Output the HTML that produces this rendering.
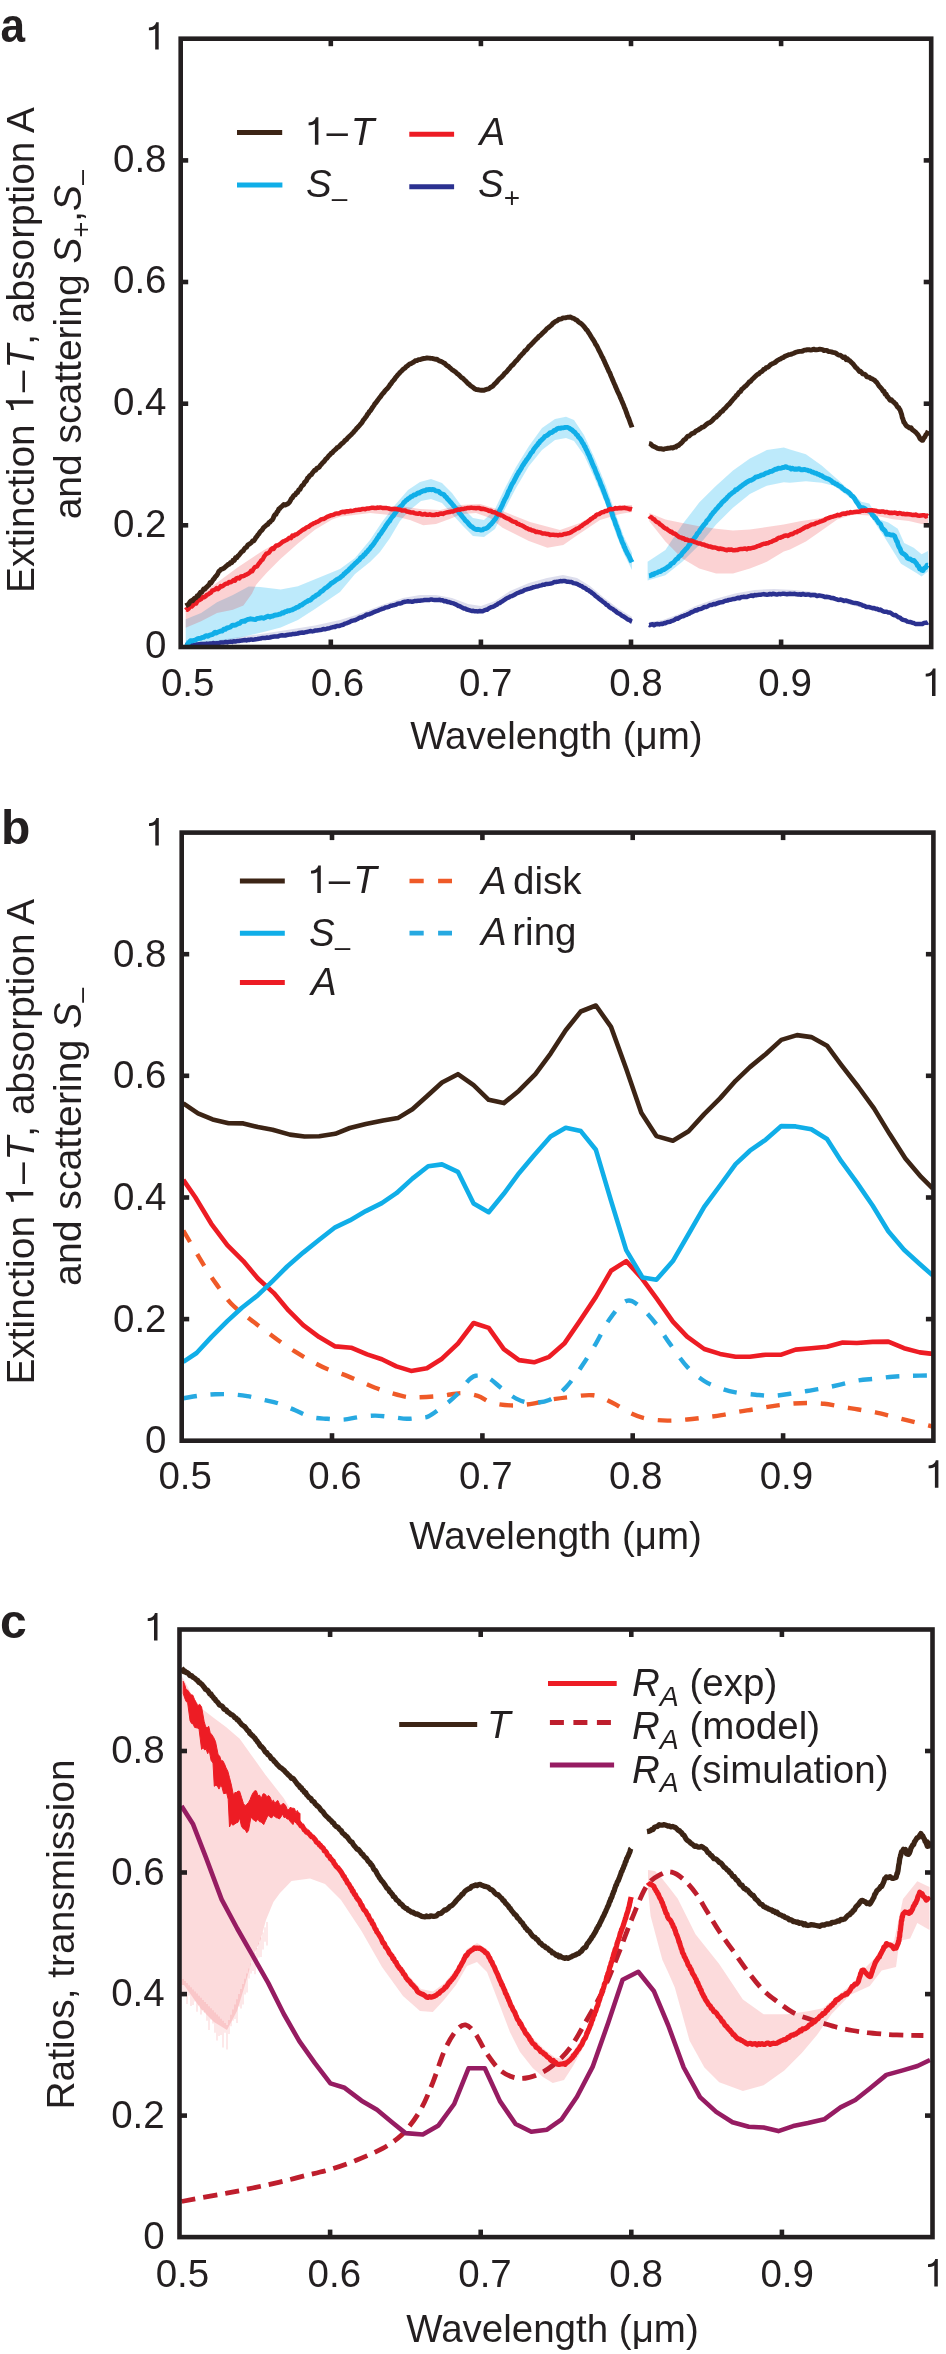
<!DOCTYPE html>
<html><head><meta charset="utf-8"><style>
html,body{margin:0;padding:0;background:#fff;}
svg{display:block;will-change:transform;}
text{font-family:"Liberation Sans", sans-serif;fill:#231f20;}
</style></head><body>
<svg width="946" height="2354" viewBox="0 0 946 2354">
<rect width="946" height="2354" fill="#fff"/>
<text transform="translate(0.6,42) scale(0.92,1)" font-size="48" font-weight="bold">a</text>
<path d="M185.7,643 L212.2,641 L246.5,636 L280.7,631 L315,625.5 L340,620 L356,615 L382,605 L403,598 L420,595 L436,595 L452,598 L468,604 L481,606 L495,601 L510,591 L529,583 L547,578 L563,575 L577,578 L590,586 L603,597 L619,609 L632,617 L632,622 L619,614 L603,602 L590,592 L577,584.5 L563,582 L547,584.5 L529,589.5 L510,597.5 L495,607 L481,612 L468,611 L452,604 L436,600.5 L420,601 L403,603 L382,610 L356,620.5 L315,631.5 L280.7,636.5 L246.5,641 L212.2,644.5 L185.7,646Z" fill="#2e3192" fill-opacity="0.16" stroke="none"/>
<path d="M649,622 L663,620 L679,614 L695.5,606 L715,599 L735,593.5 L754.5,590 L774,589 L794,590 L813.5,592 L833,596 L853,601.5 L872.5,607 L892,612 L892,615.5 L872.5,610.5 L853,605.5 L833,600.5 L813.5,597.5 L794,596 L774,595.5 L754.5,596.5 L735,600 L715,605 L695.5,612 L679,619 L663,625 L649,626Z" fill="#2e3192" fill-opacity="0.16" stroke="none"/>
<path d="M185.7,619.2 L201.1,612.9 L217,602.3 L232.9,594.9 L248.7,586.4 L260.2,587 L280.7,589.6 L297.9,586.2 L315,579.3 L340,569 L355,558 L370,540 L382,522 L395,505 L408,490 L420,482 L431,479 L442,483 L452,493 L463,508 L473,518 L484,520 L494.6,510 L505,488 L516,467 L529,446 L542,428 L555,419 L566,416.8 L574,420 L584,435 L595,459 L606,486 L616,515 L624,537 L632,553 L632,570 L624,554 L616,534 L606,505 L595,479 L584,455 L574,441 L566,438 L555,440 L542,450 L529,466 L516,488 L505,509 L495,529 L484,537 L473,536 L463,526 L452,514 L442,503 L431,499 L421,501 L410,510 L400,521 L390,538 L380,552 L370,562 L355,574 L340,592 L315,609 L297.9,620 L280.7,627.5 L263.6,632 L237.9,638 L212.2,643 L185.7,645Z" fill="#00aeef" fill-opacity="0.26" stroke="none"/>
<path d="M647.6,561.8 L665.4,549.9 L682.3,524.6 L699.2,502.6 L716.1,485.7 L733,470.4 L749.9,458.6 L766.8,450.1 L783.8,447.6 L790,449.5 L805.9,454.3 L821.7,465.4 L837.6,479.6 L853.4,493.9 L861.3,501.8 L869.3,503.4 L878.8,519.3 L888.3,522.4 L897.8,528.8 L904.2,543.1 L913.7,547.8 L921.6,554.2 L928,551 L928,571.6 L921.6,576.4 L916.8,573.2 L901,563.7 L885.1,538.3 L869.3,514.5 L853.4,500.3 L834.4,486 L821.7,482.8 L805.9,481.2 L790,482.8 L783.8,482.3 L766.8,485.7 L749.9,494.1 L733,507.7 L716.1,524.6 L699.2,544.9 L682.3,561.8 L665.4,575.3 L647.6,580.4Z" fill="#00aeef" fill-opacity="0.26" stroke="none"/>
<path d="M185.7,606.7 L212.2,586.2 L237.9,567.3 L263.6,550.2 L289.3,536.5 L315,522.8 L340,514.2 L370,506 L400,506 L420,509 L440,510 L460,505 L480,504 L500,510 L530,522 L560,530 L580,523 L600,512 L620,505 L632,505 L632,512 L620,514 L600,520 L576.5,535.8 L563.3,545 L547.4,547.7 L528.9,541 L502.5,527.8 L490,518 L476,513 L462,514 L449.6,519 L436,524 L423.2,525.2 L410,520 L390,515 L370,513 L340,516.8 L332.1,519.4 L315,529.7 L297.9,543.4 L280.7,558.8 L267,572.5 L260.2,580 L256,585 L251.9,593.8 L243.4,605.5 L232.9,609.7 L217,612.9 L201.1,621.3 L185.7,627.7Z" fill="#ed1c24" fill-opacity="0.2" stroke="none"/>
<path d="M649.3,513 L665.4,519.5 L682.3,522.9 L699.2,526.3 L716.1,528.8 L733,530.5 L749.9,529.6 L766.8,527.1 L783.8,524.6 L800,521.2 L821.7,518 L837.6,513 L853.4,510 L866,508.5 L878.8,509 L893,510.5 L909,512 L928,513.5 L928,524 L921.6,524 L908.9,520.9 L893.1,519.3 L877.2,516.1 L853.4,514.5 L837.6,519.3 L821.7,530.4 L805.9,541.5 L790,549.4 L783.8,551.6 L766.8,561.8 L749.9,568.5 L733,573.6 L716.1,573.6 L699.2,568.5 L682.3,558.4 L665.4,541.5 L649.3,521.2Z" fill="#ed1c24" fill-opacity="0.2" stroke="none"/>
<path d="M185.7,645.2 L186.6,644.9 L187.6,645.2 L188.7,645.1 L189.9,644.9 L191.3,644.7 L192.8,645 L194.3,644.9 L196,644.6 L197.7,644.5 L199.4,644.2 L201.2,643.9 L203,644.1 L204.9,644.1 L206.7,643.6 L208.6,644 L210.4,643.5 L212.2,643.3 L213.6,643.1 L215,643.6 L216.5,643.3 L218,643.3 L219.5,642.9 L221,642.4 L222.5,642.5 L224.1,642.4 L225.7,642 L227.3,642.4 L228.9,641.9 L230.5,641.6 L232.1,641.9 L233.7,641.2 L235.3,641.6 L236.9,641.1 L238.6,641 L240.2,640.7 L241.8,640.6 L243.4,640.2 L244.9,640 L246.5,640.4 L248.1,639.7 L249.6,639.9 L251.2,639.4 L252.7,639.7 L254.3,639.5 L255.8,639.2 L257.4,639 L258.9,638.7 L260.5,638.6 L262,638 L263.6,638 L265.2,638.1 L266.7,637.5 L268.3,637.8 L269.8,637.5 L271.4,637 L272.9,636.8 L274.5,636.6 L276,636.4 L277.6,636.6 L279.1,635.9 L280.7,635.5 L282.2,635.3 L283.7,635.5 L285.2,635.5 L286.8,635 L288.3,634.7 L289.9,634.6 L291.4,634.5 L293,633.9 L294.5,633.9 L296.1,633.7 L297.7,633.5 L299.2,633 L300.7,632.7 L302.2,632.6 L303.8,632.8 L305.2,632.2 L306.7,632.1 L308.2,631.7 L309.6,631.3 L311,631.1 L312.4,631.4 L313.7,631.1 L315,630.6 L316.7,630.5 L318.4,630.2 L320.1,630.1 L321.7,629.8 L323.3,629.1 L324.9,629.3 L326.4,628.9 L327.9,628.4 L329.4,628.3 L330.8,627.7 L332.2,627.3 L333.6,626.9 L334.9,627.1 L336.2,626.2 L337.5,625.9 L338.8,626 L340,625.7 L341.8,625 L343.4,624.7 L344.8,623.7 L346.2,623.3 L347.5,622.8 L348.7,622.4 L350,621.7 L351.4,621 L352.9,620.6 L354.5,620.3 L356.3,619.6 L357.5,619 L358.8,618.3 L360.1,617.6 L361.5,617.5 L362.9,616.6 L364.4,616.2 L365.9,615 L367.4,614.5 L369,614.3 L370.5,613.7 L372.1,613.1 L373.6,612.3 L375.1,611.6 L376.6,611.1 L378.1,610.7 L379.5,609.8 L380.9,609.4 L382.2,608.7 L383.9,608.5 L385.5,607.4 L387.2,607.3 L388.8,606.9 L390.5,605.8 L392,605.7 L393.6,605.2 L395.1,604.9 L396.6,604.3 L398,603.6 L399.3,603.4 L400.6,603.4 L401.8,603.1 L402.9,602.2 L405.1,601.7 L406.7,601.5 L408,601.3 L409.2,601.6 L410.5,601.4 L412,601.8 L413.5,601.5 L415,600.9 L416.5,601.1 L418.1,600.8 L419.8,600.8 L421.5,600.4 L423.2,600.3 L424.7,600.1 L426.3,600.1 L427.9,600.1 L429.5,599.9 L431.2,599.4 L432.9,599.7 L434.6,599.9 L436.4,599.9 L437.9,600.1 L439.4,599.7 L441,600.3 L442.6,600.3 L444.2,601.2 L445.8,601.1 L447.5,601.9 L449.1,602.1 L450.7,602.8 L452.3,603.1 L453.7,603.4 L455.2,604.2 L456.7,604.8 L458.2,605.9 L459.6,606.1 L461.1,607 L462.5,607.7 L464,608.6 L465.4,608.6 L466.8,609.5 L468.1,609.8 L469.9,610.4 L471.6,611 L473.3,610.8 L474.9,611.3 L476.5,611.3 L478.1,611.4 L479.8,611 L481.4,611.3 L482.9,611.2 L484.3,610.3 L485.7,609.8 L487.1,609.8 L488.6,608.5 L490,607.8 L491.5,607.1 L493,606.8 L494.6,606 L495.8,605.1 L497.1,604.6 L498.3,603.4 L499.6,603.1 L500.9,602.1 L502.2,601.4 L503.5,600.5 L504.8,599.7 L506.2,598.7 L507.6,597.8 L509,597.3 L510.4,596.4 L511.7,596.1 L513.1,595.5 L514.5,594.8 L515.9,593.9 L517.3,593.1 L518.8,592.6 L520.2,592 L521.7,591.5 L523.1,591.1 L524.6,589.9 L526,589.6 L527.5,589.1 L528.9,588.8 L530.4,588.4 L532,587.8 L533.6,587.2 L535.2,586.9 L536.7,586.4 L538.3,586.2 L539.9,585.7 L541.4,585.3 L543,584.7 L544.5,584.8 L545.9,584.1 L547.4,584 L549.1,583.8 L550.8,583.5 L552.4,583.1 L554.1,582.1 L555.7,582 L557.3,581.7 L558.8,581.5 L560.3,581.1 L561.8,581.3 L563.3,580.9 L565.1,581.1 L566.8,581.7 L568.4,581.8 L570.1,581.9 L571.7,582 L573.3,583.1 L574.9,583.4 L576.5,583.7 L577.8,584.3 L579.1,585.1 L580.5,585.8 L581.8,586.2 L583.1,587.4 L584.4,587.8 L585.7,588.5 L587.1,589.8 L588.4,590.2 L589.7,591.4 L590.9,591.9 L592.1,593.1 L593.2,593.7 L594.4,594.7 L595.5,596.1 L596.7,596.7 L597.9,597.7 L599.1,598.8 L600.3,599.6 L601.6,600.6 L602.9,601.7 L604,602.5 L605.2,603.4 L606.4,604.9 L607.7,605.2 L608.9,606.7 L610.2,607.7 L611.5,608.5 L612.8,609 L614,610.3 L615.3,610.9 L616.5,612.1 L617.7,613 L618.8,613.5 L620.3,614.3 L621.8,615.7 L623.4,616.4 L624.9,617.4 L626.4,618.4 L627.8,619.5 L629.1,619.9 L630.2,620.4 L631.2,621.4 L632,621.7" fill="none" stroke="#2b3190" stroke-width="4.5" stroke-linejoin="round" stroke-linecap="butt"/>
<path d="M649,624.9 L649.9,625.3 L651.1,624.4 L652.5,624.3 L654,625.2 L655.7,624.2 L657.5,624 L659.3,624.4 L661.1,623.8 L662.8,624 L664.2,623 L665.6,623.3 L667.1,622.2 L668.6,621.9 L670.1,621.7 L671.6,620.9 L673.1,620.6 L674.7,619.7 L676.2,618.5 L677.7,618.7 L679.2,617.8 L680.7,616.9 L682.1,616.2 L683.6,616.2 L685,615.2 L686.4,614.9 L687.9,614.1 L689.3,613.6 L690.8,612.5 L692.3,612 L693.9,611.2 L695.5,610.3 L696.9,610.4 L698.3,609.3 L699.8,609.2 L701.3,608.8 L702.8,608 L704.4,607 L705.9,607.1 L707.5,606.5 L709,605.5 L710.6,604.9 L712.1,604.9 L713.7,603.9 L715.2,604.3 L716.7,603.5 L718.2,603 L719.7,602.5 L721.3,602.3 L722.8,602.1 L724.3,601.1 L725.8,600.8 L727.3,600.6 L728.8,599.9 L730.4,599.8 L731.9,599.4 L733.4,599 L734.9,598.9 L736.4,598.4 L737.9,597.7 L739.4,598.3 L740.9,597.3 L742.4,597.1 L743.9,596.8 L745.5,597.1 L747,596.9 L748.5,596.2 L750,595.9 L751.5,595.4 L753,596 L754.5,595.1 L756,595.3 L757.6,594.9 L759.1,594.8 L760.7,594.7 L762.2,594.4 L763.8,594.1 L765.4,594.6 L766.9,594.7 L768.4,594.5 L769.9,594 L771.4,594.4 L772.8,593.7 L774.2,594 L775.9,594.4 L777.6,594.4 L779.2,593.9 L780.8,594.2 L782.3,593.8 L783.9,593.8 L785.4,593.9 L786.9,594.3 L788.4,594 L790,593.8 L791.6,594.1 L793.2,594 L794.8,593.8 L796.4,594.3 L798,594.4 L799.5,594.3 L801.1,594.7 L802.7,593.9 L804.3,594.5 L805.9,594.7 L807.5,594.6 L809.1,594.5 L810.6,595.2 L812.2,595 L813.8,595 L815.4,595 L817,596.1 L818.5,595.6 L820.1,595.6 L821.7,595.9 L823.3,596.2 L824.9,597.1 L826.5,596.7 L828.1,597.1 L829.6,597.2 L831.2,598 L832.8,598 L834.4,598.5 L836,599.2 L837.6,599.7 L839.2,599.9 L840.8,599.5 L842.4,600.1 L844.1,600.9 L845.7,600.4 L847.3,600.9 L848.9,601.5 L850.4,601.7 L851.9,602.4 L853.4,602.7 L855.1,602.9 L856.8,603.2 L858.4,603.7 L859.9,604.3 L861.5,604.6 L863,605.7 L864.5,605.7 L866.1,606.9 L867.7,607.1 L869.3,606.9 L870.9,607.7 L872.5,608.2 L874,608 L875.6,608.9 L877.2,608.8 L878.8,610 L880.4,609.6 L882,610.7 L883.6,611.5 L885.1,611.8 L886.7,611.7 L888.3,612.5 L889.9,612.6 L891.5,613.4 L892.9,614.6 L894.3,615.2 L895.7,615.1 L897.1,616.3 L898.6,617.3 L900,617.6 L901.4,619 L902.8,619.8 L904.2,620.1 L905.8,620.5 L907.4,621.6 L909,621.9 L910.6,622.1 L912.2,622.7 L913.8,623 L915.3,624 L916.8,623.9 L918.6,624.1 L920.4,624.1 L922.3,624 L924.1,622.9 L925.7,622.7 L927,622.9 L928,622.3" fill="none" stroke="#2b3190" stroke-width="4.5" stroke-linejoin="round" stroke-linecap="butt"/>
<path d="M185.7,642.7 L186.6,643.2 L187.7,643 L189,642.5 L190.4,640.7 L192,641.1 L193.6,640.4 L195.4,640.1 L197.1,638.9 L198.8,638.5 L200.5,638.4 L202.2,637.5 L203.7,637.4 L205.2,636.1 L206.6,635.7 L208,636.3 L209.5,635.2 L210.9,634.8 L212.3,634.6 L213.7,633.4 L215.1,632.2 L216.5,633 L218,632 L219.4,631.6 L220.8,630.9 L222.3,631 L223.7,629.3 L225.3,629.4 L226.8,628 L228.4,627.8 L229.9,627.3 L231.4,626.1 L232.8,625.1 L234.2,625.2 L235.5,625.1 L236.8,624.4 L237.9,623.7 L239.7,623.3 L241.1,621.8 L242.2,621.3 L243.3,621 L244.7,621.4 L246.5,619.9 L247.7,619.4 L249.1,619.2 L250.6,618.8 L252.1,619.1 L253.7,619.4 L255.3,619.6 L257,618.5 L258.7,618.4 L260.4,618 L262,617.7 L263.6,618.3 L265.2,617.6 L266.7,616.7 L268.3,616.1 L269.8,617 L271.4,616.3 L272.9,616.1 L274.5,615.2 L276,615 L277.6,614.9 L279.1,614.2 L280.7,614 L282.1,612.8 L283.6,613.1 L285,611.7 L286.4,611.6 L287.9,610.7 L289.3,610.8 L290.7,610.1 L292.2,609.8 L293.6,609 L295,608.5 L296.5,607.4 L297.9,607.1 L299.2,606.3 L300.5,605.2 L301.9,605.1 L303.2,603.8 L304.5,602.9 L305.8,602 L307.1,601.5 L308.4,600.5 L309.7,600.3 L311.1,599.5 L312.4,598 L313.7,597 L315,596.4 L316.2,595.2 L317.5,594.6 L318.8,593.8 L320.2,592.3 L321.5,591.3 L322.8,590.7 L324.1,589.2 L325.4,588 L326.7,587.5 L327.9,586.4 L329,585.5 L330.1,584.4 L331.2,583.3 L332.1,582.9 L333.9,581.7 L335.3,580.7 L336.4,579.7 L337.5,579.2 L338.6,578.6 L340,577.8 L340.9,576.9 L341.9,576.1 L342.9,575.5 L343.9,574 L344.9,573.5 L346,572.2 L347.2,571.3 L348.4,570.4 L349.7,568.6 L351.1,567.9 L352,566.3 L352.9,565.8 L353.9,564.8 L355,563.6 L356.1,562.8 L357.2,561.7 L358.3,560.6 L359.5,559.7 L360.6,557.9 L361.8,557.1 L362.9,556.4 L364,554.7 L365.1,554.2 L366.2,552.4 L367.3,551.7 L368.3,550.2 L369.2,549.4 L370.3,548 L371.3,546.4 L372.3,545.7 L373.3,544.2 L374.2,543.1 L375.1,541.6 L376,540.4 L376.9,539 L377.8,537.5 L378.6,536.8 L379.5,534.7 L380.4,534.1 L381.3,532.8 L382.2,531.2 L383.1,530.1 L384.1,528.7 L385,527.3 L385.9,525.7 L386.8,524.4 L387.8,523.1 L388.7,521.7 L389.6,521 L390.6,519.1 L391.5,517.9 L392.4,516.6 L393.3,515.8 L394.3,514.3 L395.2,513.1 L396.3,511.5 L397.4,510.2 L398.4,508.7 L399.5,507.5 L400.6,506.3 L401.7,505.6 L402.8,504.1 L403.8,502.6 L404.9,501.8 L406,500.4 L407,499.9 L408.1,498.8 L409.5,498.1 L410.9,496.6 L412.4,496.3 L413.8,495 L415.2,494.9 L416.6,494 L418,492.9 L419.3,493 L420.6,492 L422.2,491.4 L423.7,490.6 L425.2,490.7 L426.7,489.6 L428.2,489.9 L429.6,489.4 L431.1,489.7 L432.6,489.5 L434.1,489.6 L435.6,490.8 L437.2,491.1 L438.7,491.4 L440.2,493 L441.7,493.9 L442.9,494.1 L444.1,494.9 L445.2,496.5 L446.4,497.3 L447.6,499.1 L448.8,500.1 L449.9,501.6 L451.1,502.8 L452.3,504.3 L453.3,505.5 L454.2,506.5 L455.2,507.7 L456.2,508.7 L457.1,509.7 L458.1,511 L459.1,512.9 L460,513.6 L461,515 L461.9,516 L462.9,517.4 L464.1,518.7 L465.2,520.3 L466.4,521.3 L467.6,522.5 L468.7,524 L469.9,525.3 L471.1,526.5 L472.2,526.9 L473.4,528.1 L474.9,529 L476.4,529.6 L477.9,529.3 L479.5,529.7 L481,530.1 L482.5,529.9 L484,528.8 L485.2,528.6 L486.4,528.3 L487.5,527.6 L488.7,526.5 L489.9,525.2 L491.1,524.2 L492.3,522.6 L493.4,521.3 L494.6,519.8 L495.3,519.1 L496,517.8 L496.7,516.4 L497.4,514.9 L498.1,513.6 L498.8,512.5 L499.5,510.8 L500.2,509 L500.9,508.1 L501.6,506.3 L502.3,505.2 L503,503.2 L503.7,501.8 L504.4,500.2 L505.1,498.9 L505.8,497.8 L506.5,496.4 L507.2,494.7 L507.9,493.1 L508.5,491.3 L509.2,490.6 L509.9,488.8 L510.6,487.4 L511.3,485.7 L512,484.2 L512.7,483.2 L513.4,482.3 L514.2,480.6 L514.9,479.2 L515.7,477.8 L516.5,476.1 L517.2,474.6 L518,473.7 L518.8,471.8 L519.6,470.9 L520.5,469.5 L521.3,468.2 L522.1,466.5 L523,465.1 L523.8,464.1 L524.7,462.5 L525.5,461.6 L526.4,460 L527.2,459.1 L528.1,457.9 L528.9,456.6 L529.8,455.2 L530.8,453.5 L531.7,452.3 L532.7,451.5 L533.6,449.5 L534.6,448.2 L535.5,447.2 L536.4,445.9 L537.4,445 L538.3,443.3 L539.3,442.8 L540.2,440.9 L541.2,440.5 L542.1,439.4 L543.4,438.4 L544.8,436.5 L546.1,435.9 L547.5,435.1 L548.9,433.9 L550.2,432.6 L551.5,432.5 L552.8,431.8 L554.1,430.4 L555.3,430.4 L557,428.9 L558.6,428.3 L560.2,428.4 L561.7,427.9 L563.1,427.9 L564.6,427.5 L565.9,427.4 L567.6,427.4 L569.1,428.1 L570.6,429.2 L572.1,430 L573.8,431.7 L574.7,432 L575.6,433.5 L576.5,434.6 L577.5,435.1 L578.4,437 L579.4,437.8 L580.4,439.2 L581.4,440.6 L582.4,442.7 L583.4,443.9 L584.4,446.3 L585,446.6 L585.6,448.5 L586.3,449.7 L586.9,450.9 L587.5,452.2 L588.1,453.8 L588.8,455 L589.4,456 L590,458.1 L590.6,459.1 L591.3,460.8 L591.9,462.2 L592.5,464.1 L593.1,465.1 L593.8,467 L594.4,467.8 L595,469.5 L595.6,471.3 L596.2,472.6 L596.8,474.2 L597.4,475.1 L597.9,477 L598.5,478.5 L599.1,479.3 L599.7,480.8 L600.3,482.6 L600.9,484.5 L601.5,485.6 L602.1,486.9 L602.7,488.5 L603.3,490.3 L603.8,491.5 L604.4,493.1 L605,494.6 L605.6,496.5 L606.1,497.8 L606.7,499.2 L607.2,500.2 L607.7,502 L608.3,503.7 L608.8,505.1 L609.4,506.8 L609.9,508.3 L610.5,509.1 L611,511 L611.6,512.4 L612.1,513.7 L612.6,515.5 L613.1,517.4 L613.7,518.7 L614.2,519.5 L614.7,521 L615.2,522.5 L615.6,524.3 L616.1,525.2 L616.7,526.5 L617.3,528.5 L617.9,529.8 L618.4,531.1 L619,533.1 L619.5,534.9 L620,536.1 L620.5,537.5 L621,538.3 L621.5,540 L622,541.4 L622.5,542.8 L623.1,543.8 L623.6,544.7 L624.1,546.7 L624.9,547.8 L625.6,549.9 L626.5,551.4 L627.3,553.4 L628.1,554.6 L628.9,556 L629.7,557.7 L630.4,559.1 L631,560.6 L631.6,561.3 L632,562.2" fill="none" stroke="#10aee8" stroke-width="4.9" stroke-linejoin="round" stroke-linecap="butt"/>
<path d="M649,575.8 L649.9,575.7 L651,575.4 L652.3,574.2 L653.7,574.5 L655.3,573.1 L657,572.9 L658.7,571.6 L660.4,571.5 L662.2,570.1 L663.8,569.7 L665.4,568.7 L666.5,568 L667.6,566.9 L668.7,566.4 L669.9,565.7 L671,563.9 L672.1,563.3 L673.3,562.8 L674.4,561.5 L675.5,560.2 L676.6,559 L677.8,558.5 L678.9,556.5 L680,556 L681.2,554.9 L682.3,553 L683.2,552.1 L684.2,551 L685.1,550.1 L686.1,548.7 L687,548.1 L687.9,546.9 L688.9,545.1 L689.8,544.4 L690.8,542.3 L691.7,541 L692.6,540.3 L693.6,539.2 L694.5,537.9 L695.4,536.8 L696.4,535.4 L697.3,533.5 L698.3,532.8 L699.2,531.7 L700.1,529.7 L701.1,528.8 L702,527.2 L703,526 L703.9,525 L704.8,523.9 L705.8,523 L706.7,520.9 L707.7,520 L708.6,519.2 L709.5,517.8 L710.5,516.3 L711.4,514.8 L712.3,514 L713.3,512.4 L714.2,511.7 L715.2,510.5 L716.1,509.2 L717.2,508.3 L718.4,506.7 L719.5,505.5 L720.6,504.6 L721.7,502.9 L722.9,501.6 L724,500.9 L725.1,499.6 L726.2,498.9 L727.4,497.2 L728.5,496.3 L729.6,494.9 L730.7,494.3 L731.9,493.2 L733,492.3 L734.3,491.6 L735.6,489.8 L736.9,489.7 L738.2,488.5 L739.5,487.6 L740.8,486.4 L742.1,485.5 L743.4,484.5 L744.7,483.7 L746,482.7 L747.3,481.9 L748.6,481.1 L749.9,480.4 L751.3,480.2 L752.7,479.4 L754.1,478.5 L755.5,477.2 L756.9,476.8 L758.3,476.5 L759.8,476 L761.2,475.2 L762.6,474.8 L764,474.5 L765.4,473.3 L766.8,472.9 L768.4,472.6 L770,471.5 L771.7,471.3 L773.4,470.3 L775.1,469.3 L776.8,469.2 L778.4,468.2 L779.9,468.4 L781.4,468.1 L782.7,467.4 L783.8,467.5 L785.9,466.6 L787,467.3 L788,467.6 L790,468 L791.2,469 L792.6,468.3 L794.1,469.3 L795.7,469 L797.4,469.2 L799.1,468.7 L800.8,469.7 L802.6,469.8 L804.3,469.4 L805.9,469.8 L807.4,470.1 L808.8,470.9 L810.3,470.9 L811.9,472.1 L813.4,472.3 L814.8,473.1 L816.3,473.2 L817.7,474.2 L819.1,474.5 L820.4,475.3 L821.7,475.6 L823.3,476.9 L824.8,477.6 L826.2,478.3 L827.5,478.6 L828.8,479.2 L830.1,480 L831.4,480.8 L832.8,482.5 L834.2,482.6 L835.6,484.1 L837,484.3 L838.4,485.6 L839.9,486.2 L841.2,487.1 L842.6,488.5 L843.9,489.3 L845.2,490.6 L846.5,490.8 L847.7,491.8 L848.9,492.6 L850.1,493.7 L851.3,495.5 L852.4,496.1 L853.4,497.1 L854.4,498.3 L855.4,500.1 L856.2,501.5 L857,502.4 L857.8,503.7 L858.8,505.2 L859.8,506.9 L861,507.9 L862.3,507.6 L863.7,508.1 L865.1,508.7 L866.5,510 L867.9,510.8 L869.3,510.8 L870.4,511.9 L871.4,512.9 L872.5,515.3 L873.6,515.9 L874.7,517.9 L875.8,518 L876.8,520 L877.8,521.3 L878.8,523.2 L879.7,523.4 L880.7,524.5 L881.6,527 L882.4,528.6 L883.3,529.1 L884.1,530.1 L885,530.8 L885.8,532.5 L886.7,534.3 L888.3,534.2 L889.9,534.7 L891.5,535.1 L893.1,535 L894.6,536 L895.3,537.8 L896,539.8 L896.6,541.1 L897.3,541.6 L897.9,544.2 L898.5,545.9 L899.1,547.1 L899.8,548.2 L900.4,549.3 L901,551.4 L902.2,553.1 L903.4,553.7 L904.7,554.6 L905.9,555.6 L907.3,557.9 L908.6,558.8 L909.9,558.9 L911.3,559.8 L912.7,560.7 L914,560.5 L915.3,562.1 L916.4,563.3 L917.5,565.6 L918.5,566 L919.6,568.8 L920.6,568.7 L921.6,570.2 L923,570.5 L924.5,568 L925.9,567.4 L927.1,565.2 L928,565.3" fill="none" stroke="#10aee8" stroke-width="4.9" stroke-linejoin="round" stroke-linecap="butt"/>
<path d="M185.7,610.1 L186.5,609.3 L187.5,609.7 L188.7,608.6 L190,606.4 L191.6,606.6 L193.3,604.9 L195.1,602.4 L196.2,603.4 L197.3,601.2 L198.6,600.4 L199.9,599.7 L201.3,599 L202.7,597.1 L204.1,597.2 L205.5,596.4 L206.9,594.8 L208.3,594.4 L209.7,593.2 L211,592.7 L212.2,590.7 L213.7,590.1 L215.2,589.5 L216.6,588.1 L218,589.1 L219.4,587.8 L220.7,586.1 L222,586.5 L223.3,585.6 L224.6,584.5 L225.9,583.8 L227.5,583.6 L229,582.1 L230.5,582.3 L232,581.5 L233.5,580 L234.9,580.7 L236.4,578.3 L237.9,577.8 L239.4,578.4 L240.9,576.5 L242.5,576.3 L244,575.9 L245.5,574.9 L247,574.3 L248.5,573.5 L249.9,572.5 L251.1,570.7 L252.3,571.1 L253.5,569 L254.7,567.3 L255.8,566.8 L257,566.4 L258.1,564.8 L259.1,563.3 L260.2,562.2 L261.3,560.3 L262.4,559.8 L263.4,558 L264.4,556.1 L265.4,554.9 L266.5,553.5 L267.6,553.5 L268.8,552.7 L269.9,551.4 L271.1,549.4 L272.3,548.3 L273.6,549 L274.9,547 L276.2,545.6 L277.6,545.5 L279.1,544.7 L280.7,543.5 L281.8,542.6 L283.1,541.5 L284.3,541.1 L285.6,540.3 L286.9,539.9 L288.3,538.7 L289.7,537.7 L291.1,538.1 L292.4,535.5 L293.8,536 L295.2,534.5 L296.6,534.5 L297.9,533.5 L299.2,532.4 L300.5,531.6 L301.9,530.5 L303.2,529.5 L304.5,529.2 L305.8,528 L307.1,527.1 L308.4,526.8 L309.7,525.9 L311.1,524.6 L312.4,524.3 L313.7,523.2 L315,523.1 L316.4,521.9 L317.9,521.7 L319.4,520.7 L320.9,519.5 L322.4,519.1 L323.9,518.9 L325.4,518 L326.8,516.9 L328.2,516.5 L329.6,515.9 L330.9,515.2 L332.1,515.2 L333.9,514.6 L335.3,513.7 L336.6,513.6 L337.8,513.5 L339.3,513.2 L341.1,512.3 L343.4,511.8 L344.6,512.2 L345.8,511.5 L347.2,511.2 L348.7,511.4 L350.3,510.8 L352,510.9 L353.6,510.6 L355.3,510.1 L357.1,509.9 L358.8,509.6 L360.5,509.7 L362.1,509.1 L363.7,508.9 L365.2,509.2 L366.7,508.5 L368,508.5 L369.2,508.4 L371.4,507.8 L373.2,507.8 L374.7,508 L376,508.1 L377.3,507.6 L378.7,507.7 L380.3,507.4 L382.2,507.9 L383.6,507.9 L385.1,508.1 L386.7,508.1 L388.4,508.4 L390.2,509.1 L392,509.2 L393.8,509.1 L395.6,509.1 L397.3,509.3 L398.9,509.6 L400.4,509.8 L401.7,510.4 L402.9,510.5 L405.5,510.6 L406.9,511.6 L408.1,511.7 L410,512.2 L411.4,512.6 L412.9,512.4 L414.5,513.1 L416.2,513.5 L418,513.7 L419.8,513.3 L421.5,514.2 L423.2,514.5 L424.8,513.9 L426.5,514.7 L428.1,514.8 L429.8,514.3 L431.4,514.9 L433.1,514.9 L434.8,514.9 L436.4,514.2 L438,514.8 L439.7,513.8 L441.3,513.5 L443,513.9 L444.6,513.1 L446.3,512.5 L447.9,512.3 L449.6,512.1 L451.1,511.5 L452.6,511.6 L454,511 L455.5,510.4 L457,510 L458.5,509.4 L459.9,509.7 L461.4,508.9 L462.9,509.1 L464.6,508.6 L466.2,508.4 L467.9,507.9 L469.5,508 L471.2,507.6 L472.8,507.9 L474.5,508 L476.1,508.3 L477.8,507.9 L479.4,508.1 L481.1,508.9 L482.7,508.7 L484.4,509.1 L486,509.7 L487.7,510.2 L489.3,511.1 L490.8,510.8 L492.2,512 L493.7,512.2 L495.2,512.5 L496.6,513.2 L498.1,514.4 L499.6,514.4 L501,515.3 L502.5,515.6 L504,516.7 L505.4,517.5 L506.9,518.3 L508.4,518.7 L509.8,519.5 L511.3,520.6 L512.8,521.4 L514.2,521.8 L515.7,522.2 L517.2,523.7 L518.6,524 L520.1,524.9 L521.6,525.3 L523,526.1 L524.5,526.9 L526,528 L527.4,528.4 L528.9,529.4 L530.4,529.5 L531.8,530.4 L533.2,530.4 L534.6,531.1 L536,532 L537.5,531.8 L539,532.3 L540.5,532.4 L542.1,533.4 L543.6,533.4 L545.2,533.5 L546.8,534.1 L548.4,534.1 L550.1,534.9 L551.7,534.8 L553.3,534.7 L554.9,534.9 L556.5,534.9 L558,535.4 L559.6,534.8 L561.1,534.9 L562.6,534.7 L564.1,534 L565.5,534 L566.9,533.6 L568.3,533.3 L569.7,532.8 L571.2,532.2 L572.5,531.2 L573.8,530.5 L575.2,529.7 L576.5,528.7 L577.8,528.3 L579.1,527.8 L580.4,526.5 L581.8,525.9 L583.1,524.6 L584.4,523.8 L585.7,522.9 L587,522.4 L588.4,521 L589.7,520.3 L591,518.8 L592.3,518.3 L593.6,517.1 L595,516.6 L596.3,515 L597.6,514.4 L599.1,514.1 L600.6,513 L602.1,512.2 L603.6,512 L605.1,511.1 L606.6,510.9 L608,510.2 L609.4,509.3 L610.8,509 L612.5,509.2 L614,508.9 L615.5,508.1 L617,508.6 L618.4,508.3 L619.9,508 L621.4,508.2 L623,508.1 L624.7,507.8 L626.5,508.3 L628.2,508.6 L629.7,509.3 L631,509 L632,509.3" fill="none" stroke="#ed1c24" stroke-width="4.5" stroke-linejoin="round" stroke-linecap="butt"/>
<path d="M649.3,516.1 L650,516.9 L650.9,517 L651.9,517.8 L653,519 L654.3,519.4 L655.6,521.2 L657,522.2 L658.4,522.6 L659.9,524.3 L661.3,525.1 L662.7,526.3 L664.1,527.6 L665.4,528.5 L666.7,528.8 L668,530 L669.2,530.8 L670.5,531.9 L671.8,531.8 L673.1,533.5 L674.5,533.6 L675.8,534.3 L677.1,535.5 L678.4,536.5 L679.7,537.3 L681,537.4 L682.3,538.4 L683.8,538.3 L685.4,539.8 L686.9,539.6 L688.4,540.4 L690,540.4 L691.5,540.7 L693.1,541.1 L694.6,542.1 L696.1,542.4 L697.7,543.1 L699.2,543.6 L700.7,543.6 L702.3,544.5 L703.8,544.4 L705.3,545.5 L706.9,545.4 L708.4,546.6 L710,546.5 L711.5,547 L713,547.5 L714.6,547.4 L716.1,547.8 L717.6,548.5 L719.2,549 L720.7,548.5 L722.2,549.1 L723.8,549.3 L725.3,549.8 L726.9,550.2 L728.4,549.4 L729.9,549.9 L731.5,549.5 L733,550.2 L734.5,550.3 L736.1,550 L737.6,549.9 L739.1,549.2 L740.7,549.1 L742.2,549.1 L743.8,548.8 L745.3,548.6 L746.8,549.2 L748.4,548.3 L749.9,548.6 L751.4,548.1 L753,547.8 L754.5,547.5 L756,546.9 L757.6,546.1 L759.1,545.8 L760.6,545.2 L762.2,544.3 L763.7,543.8 L765.3,543.8 L766.8,543.2 L768.2,543.2 L769.8,542.2 L771.3,541.8 L772.9,540.8 L774.4,540.3 L776,539.9 L777.5,538.5 L778.9,537.8 L780.3,537.7 L781.6,537 L782.8,536.7 L783.8,536 L785.9,535.5 L787,535.4 L788,535.9 L790,534.6 L791.1,534.1 L792.3,534.2 L793.6,533.3 L795.1,532.2 L796.6,532.3 L798.1,531 L799.7,530.7 L801.3,529.6 L802.9,528.7 L804.4,527.8 L805.9,526.8 L807.3,527 L808.8,525.9 L810.2,525.2 L811.6,524.4 L813.1,524.3 L814.5,524.1 L816,523 L817.4,522.8 L818.8,522.2 L820.3,521.5 L821.7,521.1 L823.1,520.6 L824.6,520.2 L826,518.8 L827.5,518.4 L828.9,517.9 L830.4,517.2 L831.8,516.9 L833.3,516.6 L834.7,515.9 L836.2,515.7 L837.6,514.8 L839.2,515.3 L840.8,514.7 L842.4,513.7 L844.1,513.5 L845.7,513.7 L847.3,512.8 L848.9,513.1 L850.4,512.1 L851.9,512.5 L853.4,512.3 L855.1,511.9 L856.8,511.8 L858.4,511.8 L859.9,511.6 L861.5,510.5 L863,510.8 L864.5,510.3 L866.1,510.8 L867.7,510.3 L869.2,510.3 L870.8,510.2 L872.4,510.3 L873.9,510.6 L875.5,510.7 L877.1,511.2 L878.8,511.6 L880.3,511.7 L881.8,511.4 L883.4,511.5 L885,512.2 L886.6,511.9 L888.2,512.5 L889.8,513 L891.4,512.8 L893.1,512.9 L894.6,512.6 L896.1,513 L897.6,513.8 L899.2,513.1 L900.7,513.3 L902.3,514 L903.9,513.8 L905.5,514.3 L907.2,514.1 L908.9,514.2 L910.4,514.4 L912.1,515 L913.9,515.1 L915.7,514.6 L917.6,515.5 L919.4,515.7 L921.2,515.5 L922.9,515.3 L924.5,515.3 L925.9,516.4 L927.1,515.6 L928,516.1" fill="none" stroke="#ed1c24" stroke-width="4.5" stroke-linejoin="round" stroke-linecap="butt"/>
<path d="M185.7,605.9 L186.4,605.5 L187.4,604.9 L188.6,604.3 L189.9,602.1 L191.2,600.8 L192.6,600.9 L193.9,599 L195.1,598 L196.2,597.7 L197.3,595.6 L198.4,595.7 L199.5,593.9 L200.5,592.2 L201.6,592.4 L202.6,590.8 L203.7,588.9 L204.8,589.1 L205.8,587.9 L206.9,586.9 L207.9,585.7 L209,585.2 L210.1,582.5 L211.1,583 L212.2,581.2 L213.2,579.5 L214.1,578.8 L215.1,577 L216,576.2 L217,574.9 L217.9,573.4 L218.9,571.4 L219.8,570.8 L220.8,569.6 L222.2,569 L223.7,568.3 L225.1,567.1 L226.5,565.9 L228,564.4 L229.4,564.2 L230.6,562.5 L231.8,562.7 L233,560.3 L234.3,560.5 L235.5,557.8 L236.7,557.9 L237.9,556 L239,555.2 L240,553.8 L241.1,552.4 L242.2,551.4 L243.3,550.8 L244.4,548.8 L245.4,547.7 L246.5,547.3 L247.7,545.1 L248.9,544.3 L250.1,543.6 L251.4,542.6 L252.6,541 L253.8,540.8 L255,539.1 L256,537.3 L256.9,536.5 L257.9,534.8 L258.8,534 L259.8,532.3 L260.7,531.2 L261.7,530.4 L262.6,529.3 L263.6,527.6 L264.7,526.7 L265.8,525.7 L266.8,524.8 L267.9,524.4 L269,522.3 L270.1,522.1 L271.1,520.7 L272.2,520 L273.1,518.5 L274.1,516 L275,514.7 L276,514.4 L276.9,512.1 L277.9,511.2 L278.8,509 L279.8,508.5 L280.7,507.3 L282.2,506.1 L283.8,504.4 L285.3,505 L286.8,504.3 L288.2,503.5 L289.3,502.5 L290.6,500.3 L291.3,498.7 L292.5,497.8 L293.3,496 L294.3,495.1 L295.3,494.8 L296.4,492.7 L297.6,492.5 L298.8,489.8 L300.1,489.4 L300.9,487.4 L301.8,486 L302.7,485.3 L303.6,484.6 L304.6,482.2 L305.5,481.6 L306.5,480.7 L307.5,478.1 L308.4,477.6 L309.4,476.1 L310.3,475.2 L311.4,474.6 L312.5,472.8 L313.6,471.5 L314.7,470.2 L315.8,470.2 L316.9,468.1 L318,467.9 L319.2,467.2 L320.4,465.3 L321.4,464.4 L322.5,462.8 L323.5,462 L324.6,460.8 L325.7,459.2 L326.8,458.3 L327.9,457 L329,455.6 L330.1,454.7 L331.2,453.3 L332.3,452.8 L333.5,451.1 L334.7,450.2 L335.9,449.2 L337.1,447.6 L338.3,447.2 L339.5,446.1 L340.7,444.7 L341.8,443.6 L343,442.8 L344.1,441.6 L345.3,440.1 L346.5,439.5 L347.7,437.8 L348.8,436.9 L350,435.8 L351.1,434.8 L352.2,433.5 L353.3,432.5 L354.3,431.1 L355.4,430.2 L356.5,428.6 L357.6,427.5 L358.6,426.4 L359.6,425.3 L360.6,424.1 L361.7,422.9 L362.7,421.2 L363.6,419.7 L364.6,418.7 L365.5,417.4 L366.5,416.2 L367.4,414.4 L368.4,413.5 L369.3,411.7 L370.3,410.9 L371.2,409.6 L372.1,408 L373.1,406.6 L374,405.4 L374.9,403.7 L375.9,402.7 L376.8,401.5 L377.7,400.3 L378.7,398.9 L379.6,397.7 L380.7,396.5 L381.7,394.8 L382.8,393.5 L383.8,392.7 L384.9,390.9 L386,389.8 L387,388.9 L388.1,387.7 L389,386.4 L390,384.7 L390.9,383.9 L391.9,382.2 L392.8,381.2 L393.8,380 L394.7,379 L395.7,377.3 L396.6,376.3 L397.8,374.9 L399,373.6 L400.1,372.3 L401.3,371.2 L402.5,370 L403.7,368.8 L405,368.1 L406.2,366.7 L407.4,366 L408.7,364.7 L410,363.8 L411.3,363.5 L412.6,362.7 L413.9,362 L415.2,360.8 L416.9,360.6 L418.6,359.6 L420.4,359.5 L422.1,358.9 L423.7,358.5 L425.3,358.4 L427.1,357.9 L428.8,358.1 L430.5,358.3 L432.1,358.4 L433.8,358.8 L435.2,359.3 L436.6,359.1 L438,360.1 L439.4,360.9 L440.8,361.3 L442.2,361.9 L443.5,362.9 L444.7,363.3 L445.8,364.7 L447,365.7 L448.4,366.3 L450,367.9 L451,368.7 L452.1,369.7 L453.2,370.4 L454.4,371.2 L455.7,372.1 L456.9,373.4 L458.2,374.3 L459.4,375.4 L460.6,376.7 L461.8,377.8 L462.9,378.3 L464.2,379.7 L465.4,380.8 L466.6,382 L467.8,383.4 L468.9,384.1 L470.1,385.3 L471.2,386.2 L472.3,386.8 L473.4,387.8 L475,389 L476.6,389.6 L478.1,389.7 L479.7,390.1 L481.2,390.2 L482.7,390.3 L484.2,390.2 L485.7,389.6 L487.2,389.2 L488.7,388.9 L490.3,387.5 L491.9,386.6 L493,386 L494.1,384.6 L495.2,383.5 L496.4,382.4 L497.5,381 L498.7,379.7 L499.9,378.4 L501.2,377.4 L502.5,376.1 L503.4,375.1 L504.4,373.6 L505.4,372.7 L506.4,372 L507.4,370.8 L508.4,369.4 L509.5,368.5 L510.5,367 L511.6,365.7 L512.6,365.1 L513.6,363.9 L514.7,362.5 L515.7,361.3 L516.7,360.6 L517.7,359.2 L518.7,358.3 L519.8,356.5 L520.8,355.8 L521.8,354.4 L522.8,353.6 L523.8,352.6 L524.8,350.9 L525.9,350.2 L526.9,349.2 L527.9,347.9 L528.9,346.5 L530,345.6 L531.1,344.6 L532.2,343.4 L533.3,342.3 L534.4,341 L535.5,339.9 L536.6,338.8 L537.7,338 L538.8,336.4 L539.9,335.8 L541,334.8 L542.1,333.6 L543.3,332.4 L544.5,331.4 L545.8,330.1 L547,328.5 L548.2,327.8 L549.5,326.8 L550.7,325.7 L551.9,324.6 L553.1,323.1 L554.2,322.5 L555.3,321.5 L557,320.9 L558.6,319.5 L560.2,319.1 L561.7,318.8 L563.1,317.9 L564.6,317.9 L565.9,317.8 L567.6,317.2 L569.1,317.2 L570.6,317 L572.1,318 L573.8,318.3 L574.9,319.2 L576,319.9 L577.1,320.3 L578.3,321.7 L579.5,322.6 L580.8,323.4 L582,324.4 L583.2,325.7 L584.4,327 L585.3,328.2 L586.2,329.5 L587,330 L587.9,331.4 L588.8,332.9 L589.7,334.2 L590.6,335.7 L591.5,337.2 L592.4,338.6 L593.2,339.8 L594.1,341.3 L595,342.9 L595.7,344.5 L596.4,345.2 L597.1,346.5 L597.8,347.9 L598.5,349.6 L599.2,350.9 L600,352.2 L600.7,353.7 L601.4,355.2 L602.1,356.8 L602.8,357.7 L603.5,359.5 L604.2,360.7 L604.9,362.7 L605.6,364 L606.2,365.6 L606.9,366.8 L607.5,368.3 L608.1,369.5 L608.8,371.2 L609.4,372.2 L610.1,373.6 L610.7,375.4 L611.3,376.8 L612,378.3 L612.6,379.9 L613.2,381.1 L613.8,382.6 L614.4,384 L615,385.2 L615.5,386.7 L616.1,387.9 L616.8,389.5 L617.5,391.2 L618.1,392.5 L618.7,393.8 L619.4,395 L620,396.8 L620.6,398.2 L621.1,399.2 L621.7,400.7 L622.3,402 L622.9,403.5 L623.5,404.8 L624.1,406.4 L624.6,407.9 L625.2,409 L625.8,410.8 L626.4,412.5 L627,414 L627.6,415.9 L628.3,417.5 L628.8,418.6 L629.4,420.3 L630,422.1 L630.5,423.5 L630.9,424.3 L631.3,425.4 L631.7,426.4 L632,427.4" fill="none" stroke="#3c2415" stroke-width="4.9" stroke-linejoin="round" stroke-linecap="butt"/>
<path d="M649,443.4 L649.9,443.6 L651.1,444.4 L652.5,445.9 L654,446.5 L655.8,447.4 L657.6,448.4 L659.5,448.8 L660.8,448.7 L662.2,449 L663.6,449.4 L665.2,448.6 L666.7,448.5 L668.3,448.2 L669.9,448.1 L671.5,447.6 L673,448.1 L674.5,447 L675.9,447.1 L677.2,445.6 L678.5,445.5 L679.7,444.2 L680.9,443.4 L682.1,442.3 L683.2,440.8 L684.4,439.6 L685.5,439 L686.7,437.4 L687.8,436.2 L689,436.1 L690.3,435 L691.6,433.8 L692.9,433.2 L694.2,432.8 L695.5,431.4 L696.9,430.5 L698.2,430 L699.5,429 L700.8,428.3 L702.1,427.1 L703.4,427 L704.7,426.1 L706,424.8 L707.3,423.8 L708.7,422.8 L710,422.5 L711.3,421.4 L712.6,420.2 L713.9,418.6 L715.2,417.5 L716.3,417.1 L717.3,415.6 L718.4,415.1 L719.4,413.8 L720.5,412.4 L721.5,411.5 L722.6,411.1 L723.7,409.4 L724.8,408.6 L725.9,407.5 L727.1,405.9 L728.3,404.7 L729.2,404.1 L730.2,402.9 L731.2,401.6 L732.2,400.5 L733.2,399.3 L734.2,398.1 L735.2,397.2 L736.3,395.5 L737.3,395 L738.4,393.2 L739.5,392 L740.5,391.6 L741.6,389.5 L742.6,388.7 L743.7,387.8 L744.7,386.6 L745.9,385.9 L747,384.6 L748.2,383.3 L749.4,381.6 L750.6,381.5 L751.7,379.8 L752.9,378.7 L754.1,377.6 L755.2,376.5 L756.4,375.4 L757.6,374.4 L758.8,374 L759.9,372.6 L761.1,371.9 L762.4,371.1 L763.6,369.5 L764.9,369.2 L766.1,367.7 L767.4,367.4 L768.7,366.6 L769.9,365.3 L771.2,364.3 L772.5,363.6 L773.7,363.2 L775,362.5 L776.2,361.5 L777.5,360.4 L779,359.6 L780.4,359 L781.9,357.9 L783.3,357.6 L784.7,356.4 L786.2,355.9 L787.6,355.2 L789.1,354.6 L790.6,354.3 L792.2,353.8 L793.8,353.2 L795.2,352.6 L796.7,352 L798.2,351.6 L799.7,351.4 L801.3,351.4 L802.9,351 L804.4,350.1 L806,350 L807.6,349.6 L809.1,349.7 L810.6,350.1 L812.1,349.8 L813.5,349.1 L815.1,349.8 L816.7,349.7 L818.2,349.6 L819.7,349.2 L821.2,349.4 L822.6,349.6 L824.1,350.6 L825.5,350.4 L827,350.4 L828.4,351.5 L829.9,351.6 L831.4,351.9 L832.9,352.4 L834.4,352.7 L835.9,353.1 L837.4,354.4 L838.8,355.1 L840.3,355.1 L841.8,356.3 L843.3,357.6 L844.8,357 L846.3,359.7 L847.5,358.9 L848.7,360.3 L849.9,360.8 L851.1,362.1 L852.3,363.2 L853.5,364.5 L854.7,366.1 L855.9,367.6 L857.1,368.5 L858.3,370.1 L859.4,371.5 L860.5,371.3 L861.6,372.5 L862.7,373.8 L864.1,374.1 L865.5,374.7 L866.9,376.9 L868.2,377 L869.5,377.4 L870.7,378.5 L872,378.6 L873.2,379.5 L874.5,380.1 L875.8,381.7 L876.8,382.5 L877.8,384 L878.9,385.8 L879.9,386.9 L881,388.1 L882,389.3 L883.1,391.2 L884.1,391.3 L885.1,394.1 L886.1,394 L887.1,396.5 L888,397 L888.9,398.5 L890.2,400.3 L891.4,399.8 L892.5,401.3 L893.7,401.9 L894.7,403.2 L895.8,404 L896.8,405.8 L897.8,407.3 L898.7,407.6 L899.4,409.1 L900.1,410 L900.6,411.5 L901.2,413.3 L901.7,414.8 L902.3,417.9 L902.8,418.5 L903.4,420.8 L903.9,422.4 L904.6,422.8 L905.3,424.3 L906.6,426.1 L908,426.8 L909.4,428 L911,427.7 L912.4,429.8 L913.8,430.8 L915.1,431.7 L916.2,432.8 L917.2,434 L918.2,435.1 L919,436.6 L919.9,438.6 L920.8,439.2 L921.7,440.3 L922.7,440.4 L923.8,438.1 L924.8,437.1 L925.9,434.7 L926.8,434.2 L927.6,432.2 L928.2,430.9" fill="none" stroke="#3c2415" stroke-width="4.9" stroke-linejoin="round" stroke-linecap="butt"/>
<line x1="330.8" y1="647" x2="330.8" y2="639.5" stroke="#231f20" stroke-width="4.6"/>
<line x1="330.8" y1="38.7" x2="330.8" y2="46.2" stroke="#231f20" stroke-width="4.6"/>
<line x1="480.9" y1="647" x2="480.9" y2="639.5" stroke="#231f20" stroke-width="4.6"/>
<line x1="480.9" y1="38.7" x2="480.9" y2="46.2" stroke="#231f20" stroke-width="4.6"/>
<line x1="631" y1="647" x2="631" y2="639.5" stroke="#231f20" stroke-width="4.6"/>
<line x1="631" y1="38.7" x2="631" y2="46.2" stroke="#231f20" stroke-width="4.6"/>
<line x1="781.1" y1="647" x2="781.1" y2="639.5" stroke="#231f20" stroke-width="4.6"/>
<line x1="781.1" y1="38.7" x2="781.1" y2="46.2" stroke="#231f20" stroke-width="4.6"/>
<line x1="180.7" y1="525.3" x2="188.2" y2="525.3" stroke="#231f20" stroke-width="4.6"/>
<line x1="931.2" y1="525.3" x2="923.7" y2="525.3" stroke="#231f20" stroke-width="4.6"/>
<line x1="180.7" y1="403.7" x2="188.2" y2="403.7" stroke="#231f20" stroke-width="4.6"/>
<line x1="931.2" y1="403.7" x2="923.7" y2="403.7" stroke="#231f20" stroke-width="4.6"/>
<line x1="180.7" y1="282" x2="188.2" y2="282" stroke="#231f20" stroke-width="4.6"/>
<line x1="931.2" y1="282" x2="923.7" y2="282" stroke="#231f20" stroke-width="4.6"/>
<line x1="180.7" y1="160.4" x2="188.2" y2="160.4" stroke="#231f20" stroke-width="4.6"/>
<line x1="931.2" y1="160.4" x2="923.7" y2="160.4" stroke="#231f20" stroke-width="4.6"/>
<rect x="180.7" y="38.7" width="750.5" height="608.3" fill="none" stroke="#231f20" stroke-width="4.6"/>
<path transform="translate(158.7,49.6) scale(1.0)" d="M0,0 V-27.4 H-2.6 C-3.2,-24.6 -5.3,-22.4 -9.8,-22.2 V-19.4 C-7.4,-19.4 -5,-19.9 -3.5,-20.9 V0 Z" fill="#231f20"/>
<text x="166.5" y="171.7" font-size="38.5" text-anchor="end" font-weight="normal">0.8</text>
<text x="166.5" y="293.3" font-size="38.5" text-anchor="end" font-weight="normal">0.6</text>
<text x="166.5" y="415" font-size="38.5" text-anchor="end" font-weight="normal">0.4</text>
<text x="166.5" y="536.6" font-size="38.5" text-anchor="end" font-weight="normal">0.2</text>
<text x="166.5" y="658.3" font-size="38.5" text-anchor="end" font-weight="normal">0</text>
<text x="187.7" y="696" font-size="38.5" text-anchor="middle" font-weight="normal">0.5</text>
<text x="337.4" y="696" font-size="38.5" text-anchor="middle" font-weight="normal">0.6</text>
<text x="485.7" y="696" font-size="38.5" text-anchor="middle" font-weight="normal">0.7</text>
<text x="636" y="696" font-size="38.5" text-anchor="middle" font-weight="normal">0.8</text>
<text x="785.1" y="696" font-size="38.5" text-anchor="middle" font-weight="normal">0.9</text>
<path transform="translate(935.5,696) scale(1.0)" d="M0,0 V-27.4 H-2.6 C-3.2,-24.6 -5.3,-22.4 -9.8,-22.2 V-19.4 C-7.4,-19.4 -5,-19.9 -3.5,-20.9 V0 Z" fill="#231f20"/>
<text x="556.4" y="749" font-size="38.5" text-anchor="middle" font-weight="normal">Wavelength (μm)</text>
<text transform="translate(33.5,592.9) rotate(-90)" font-size="38.9">Extinction</text>
<path transform="translate(33.3,400.2) rotate(-90)" d="M0,0 V-27.4 H-2.6 C-3.2,-24.6 -5.3,-22.4 -9.8,-22.2 V-19.4 C-7.4,-19.4 -5,-19.9 -3.5,-20.9 V0 Z" fill="#231f20"/>
<text transform="translate(33.5,392.2) rotate(-90)" font-size="38.9">–<tspan font-style="italic" dx="2">T</tspan>, absorption A</text>
<text transform="translate(81.3,344.6) rotate(-90)" font-size="39" text-anchor="middle">and scattering <tspan font-style="italic">S</tspan><tspan font-size="27" dy="9">+</tspan><tspan dy="-9">,</tspan><tspan font-style="italic">S</tspan><tspan font-size="27" dy="9">–</tspan></text>
<line x1="237" y1="132.5" x2="282.2" y2="132.5" stroke="#3c2415" stroke-width="5"/>
<line x1="409.3" y1="134.3" x2="454.1" y2="134.3" stroke="#ed1c24" stroke-width="5"/>
<line x1="237" y1="185" x2="282.4" y2="185" stroke="#10aee8" stroke-width="5"/>
<line x1="409.3" y1="186.8" x2="454.1" y2="186.8" stroke="#2b3190" stroke-width="5"/>
<path transform="translate(318.4,144.7) scale(1.0)" d="M0,0 V-27.4 H-2.6 C-3.2,-24.6 -5.3,-22.4 -9.8,-22.2 V-19.4 C-7.4,-19.4 -5,-19.9 -3.5,-20.9 V0 Z" fill="#231f20"/>
<text x="326.4" y="145" font-size="38.5" text-anchor="start" font-weight="normal">–<tspan font-style="italic" dx="3">T</tspan></text>
<text x="479.5" y="145" font-size="38.5" text-anchor="start" font-weight="normal"><tspan font-style="italic">A</tspan></text>
<text x="306" y="196.5" font-size="38.5" text-anchor="start" font-weight="normal"><tspan font-style="italic">S</tspan><tspan font-size="28" dy="10">–</tspan></text>
<text x="478" y="196.5" font-size="38.5" text-anchor="start" font-weight="normal"><tspan font-style="italic">S</tspan><tspan font-size="28" dy="10">+</tspan></text>
<text x="1" y="843.8" font-size="48" text-anchor="start" font-weight="bold">b</text>
<path d="M183.3,1230.5 C186.9,1236.5 198.8,1257.2 204.6,1266.5 C210.4,1275.8 213.6,1280.2 218,1286.4 C222.4,1292.6 226.4,1298.7 231.3,1303.8 C236.2,1308.9 242,1312.9 247.3,1317.1 C252.6,1321.3 257.9,1325.1 263.2,1329.1 C268.5,1333.1 273.9,1337.2 279.2,1341 C284.5,1344.8 289.9,1348.4 295.2,1351.7 C300.5,1355 305.9,1358.1 311.2,1361 C316.5,1363.9 321.9,1366.8 327.2,1369 C332.5,1371.2 337.9,1372.4 343.2,1374.4 C348.5,1376.4 353.8,1378.8 359.1,1381 C364.4,1383.2 369.8,1385.7 375.1,1387.7 C380.4,1389.7 385.8,1391.5 391.1,1393 C396.4,1394.5 402.3,1396.3 407.1,1397 C411.9,1397.7 414.2,1397.4 420,1397.2 C425.8,1397 435.1,1396.5 442,1395.8 C448.9,1395.1 455.2,1393.1 461.2,1393.1 C467.1,1393.1 472.6,1394.2 477.7,1395.8 C482.8,1397.4 486,1401.1 491.5,1402.7 C497,1404.3 504.3,1405.2 510.7,1405.4 C517.1,1405.6 523.6,1405 530,1404.1 C536.4,1403.2 542.8,1401.2 549.2,1400 C555.6,1398.8 561.1,1398 568.4,1397.2 C575.7,1396.4 585.9,1394.4 593.2,1395.3 C600.5,1396.2 606.5,1399.9 612.4,1402.7 C618.3,1405.5 623.4,1409.7 628.9,1412.3 C634.4,1414.9 639,1417 645.4,1418.4 C651.8,1419.8 660.4,1420.4 667.4,1420.6 C674.4,1420.8 681,1420 687.1,1419.5 C693.2,1419 698.5,1418.2 704.2,1417.5 C709.9,1416.8 715.7,1416.2 721.4,1415.2 C727.1,1414.2 732.8,1412.8 738.5,1411.8 C744.2,1410.8 749.9,1410 755.6,1409 C761.3,1408 767,1407 772.7,1406.1 C778.4,1405.2 784.2,1404.3 789.9,1403.8 C795.6,1403.3 801.3,1403 807,1403 C812.7,1403 818.4,1403.2 824.1,1403.8 C829.8,1404.4 835.5,1405.8 841.2,1406.7 C846.9,1407.7 852.7,1408.5 858.4,1409.5 C864.1,1410.5 869.8,1411.2 875.5,1412.4 C881.2,1413.6 886.9,1415.2 892.6,1416.6 C898.3,1418 903,1419.2 909.7,1420.9 C916.4,1422.6 928.8,1425.6 932.6,1426.5" fill="none" stroke="#ef5a28" stroke-width="4.4" stroke-linejoin="round" stroke-linecap="butt" stroke-dasharray="13.6 13.8"/>
<path d="M183.3,1398.3 C186,1397.9 194,1396.4 199.3,1395.7 C204.6,1395 210,1394.5 215.3,1394.3 C220.6,1394.1 226,1394 231.3,1394.3 C236.6,1394.6 242,1395.3 247.3,1396.2 C252.6,1397.1 257.9,1398.5 263.2,1399.7 C268.5,1401 273.9,1401.9 279.2,1403.7 C284.5,1405.5 289.9,1408.1 295.2,1410.3 C300.5,1412.5 305.9,1415.6 311.2,1417 C316.5,1418.4 321.9,1418.4 327.2,1418.8 C332.5,1419.2 337.9,1419.9 343.2,1419.6 C348.5,1419.3 353.8,1417.7 359.1,1417 C364.4,1416.3 369.8,1415.6 375.1,1415.6 C380.4,1415.6 385.8,1416.5 391.1,1417 C396.4,1417.5 402.3,1418.7 407.1,1418.8 C411.9,1418.9 416.5,1417.9 420,1417.5 C423.5,1417.1 424.5,1418.2 428.2,1416.4 C431.9,1414.7 437.4,1410.4 442,1407 C446.6,1403.6 451.1,1400.4 455.7,1395.8 C460.3,1391.2 465.8,1382.7 469.5,1379.3 C473.2,1375.9 474.5,1375.4 477.7,1375.2 C480.9,1375 484.6,1375.7 488.7,1378 C492.8,1380.3 497.9,1385.6 502.5,1389 C507.1,1392.4 511.6,1396.3 516.2,1398.6 C520.8,1400.9 524.5,1402.5 530,1402.7 C535.5,1402.9 543.2,1402.5 549.2,1400 C555.2,1397.5 560.2,1393.3 565.7,1387.6 C571.2,1381.9 577.2,1372.9 582.2,1365.6 C587.2,1358.3 591.3,1351.4 595.9,1343.6 C600.5,1335.8 604.7,1326 609.7,1318.9 C614.8,1311.8 621.2,1303.1 626.2,1301 C631.2,1298.9 634.9,1302.6 639.9,1306.5 C644.9,1310.4 651.4,1318.2 656.4,1324.4 C661.4,1330.6 664.9,1336.9 670,1343.9 C675.1,1351 681.4,1360.5 687.1,1366.7 C692.8,1372.9 698.7,1377.4 704.2,1381 C709.7,1384.6 714.8,1386.2 720,1388.1 C725.2,1390 729.7,1391.3 735.6,1392.4 C741.5,1393.5 749.4,1394.1 755.6,1394.7 C761.8,1395.3 767,1396 772.7,1395.8 C778.4,1395.6 784.2,1394.6 789.9,1393.8 C795.6,1393 801.3,1392 807,1391 C812.7,1390 818.4,1389.2 824.1,1388.1 C829.8,1387 835.5,1385.7 841.2,1384.4 C846.9,1383.1 852.7,1381.4 858.4,1380.4 C864.1,1379.5 869.8,1379.3 875.5,1378.7 C881.2,1378.1 886.9,1377.2 892.6,1376.7 C898.3,1376.2 903,1376.1 909.7,1375.9 C916.4,1375.7 928.8,1375.4 932.6,1375.3" fill="none" stroke="#27a9e1" stroke-width="4.4" stroke-linejoin="round" stroke-linecap="butt" stroke-dasharray="13.6 13.8"/>
<path d="M183.3,1179.9 L195.3,1197.2 L211.3,1223.8 L227.3,1245.2 L243.3,1261.1 L257.9,1278.5 L273.9,1293.1 L288.5,1310.4 L303.2,1325.1 L319.2,1337.1 L335.2,1346.4 L351.1,1347.7 L367.1,1354.4 L381.8,1359.2 L396.4,1366.4 L411.1,1370.9 L426.9,1368.3 L442,1358.7 L457.9,1343.6 L473.6,1323 L488.7,1327.9 L503.8,1349.1 L519,1360.1 L534.1,1362.3 L549.2,1356.8 L564.3,1343.6 L579.4,1321.6 L595.9,1296.9 L611,1270.8 L626.2,1261.1 L641.3,1277.6 L656.4,1298.2 L672.9,1321.6 L687.1,1336.7 L704.2,1349 L720,1353.9 L735.6,1356.7 L749.9,1356.7 L765.6,1354.7 L781.3,1354.7 L795.6,1349.6 L811.3,1348.2 L827,1346.7 L842.7,1342.5 L856.9,1343 L872.6,1341.9 L888.3,1341.6 L904,1348.2 L919.7,1352.4 L932.6,1353.9" fill="none" stroke="#ed1c24" stroke-width="4.6" stroke-linejoin="round" stroke-linecap="butt"/>
<path d="M183.3,1361.8 L196.6,1353 L211.3,1337.1 L227.3,1321.1 L241.9,1307.8 L257.9,1295.2 L272.6,1281.1 L287.2,1266.5 L303.2,1252.6 L319.2,1239.8 L335.2,1227.3 L349.8,1220.4 L365.8,1211.1 L381.8,1203.1 L396.4,1193.2 L412.4,1178.6 L428.2,1166.3 L442,1164.4 L457.9,1171.8 L473.6,1203.4 L488.7,1212.2 L503.8,1193.8 L519,1173.2 L534.1,1155.3 L550.6,1136.6 L565.7,1127.8 L580.8,1131.1 L595.9,1149.8 L611,1200.7 L626.2,1250.1 L642.6,1277.6 L656.4,1279.8 L672.9,1261.1 L688.6,1234 L704.2,1206.9 L720,1185.5 L735.6,1164.1 L749.9,1150.7 L765.6,1139.8 L781.3,1126.1 L795.6,1126.4 L811.3,1129.3 L827,1139 L841.2,1161.2 L856.9,1182.6 L872.6,1205.5 L888.3,1231.2 L904,1249.7 L919.7,1264 L932.6,1275.4" fill="none" stroke="#10aee8" stroke-width="4.6" stroke-linejoin="round" stroke-linecap="butt"/>
<path d="M183.3,1103.4 L198,1113.3 L212.6,1119.4 L228.6,1123.2 L243.3,1123.4 L257.9,1127.1 L272.6,1129.8 L289.9,1134.6 L304.5,1136.5 L319.2,1136.2 L335.2,1133.8 L349.8,1128 L365.8,1124 L383.1,1120.5 L397.8,1118.1 L412.4,1109.3 L426.9,1096.2 L442,1082.5 L457.9,1074.2 L473.6,1085.2 L488.7,1099.8 L503.8,1103.1 L519,1090.7 L535.4,1074.2 L550.6,1053.6 L565.7,1030.2 L580.8,1011.5 L595.9,1005.5 L611,1026.9 L626.2,1068.7 L641.3,1112.7 L656.4,1136.1 L672.9,1140.7 L688.6,1131.3 L704.2,1114.1 L720,1098.4 L735.6,1080.8 L749.9,1067.1 L765.6,1054.2 L781.3,1039.9 L797,1035.1 L811.3,1037.1 L827,1045.7 L841.2,1064.8 L858.4,1087 L874,1108.4 L889.7,1134.1 L905.4,1158.4 L921.1,1176.9 L932.6,1188.3" fill="none" stroke="#3c2415" stroke-width="4.6" stroke-linejoin="round" stroke-linecap="butt"/>
<line x1="332" y1="1440.7" x2="332" y2="1433.2" stroke="#231f20" stroke-width="4.6"/>
<line x1="332" y1="832.6" x2="332" y2="840.1" stroke="#231f20" stroke-width="4.6"/>
<line x1="482.4" y1="1440.7" x2="482.4" y2="1433.2" stroke="#231f20" stroke-width="4.6"/>
<line x1="482.4" y1="832.6" x2="482.4" y2="840.1" stroke="#231f20" stroke-width="4.6"/>
<line x1="632.7" y1="1440.7" x2="632.7" y2="1433.2" stroke="#231f20" stroke-width="4.6"/>
<line x1="632.7" y1="832.6" x2="632.7" y2="840.1" stroke="#231f20" stroke-width="4.6"/>
<line x1="783.1" y1="1440.7" x2="783.1" y2="1433.2" stroke="#231f20" stroke-width="4.6"/>
<line x1="783.1" y1="832.6" x2="783.1" y2="840.1" stroke="#231f20" stroke-width="4.6"/>
<line x1="181.7" y1="1319.1" x2="189.2" y2="1319.1" stroke="#231f20" stroke-width="4.6"/>
<line x1="933.4" y1="1319.1" x2="925.9" y2="1319.1" stroke="#231f20" stroke-width="4.6"/>
<line x1="181.7" y1="1197.5" x2="189.2" y2="1197.5" stroke="#231f20" stroke-width="4.6"/>
<line x1="933.4" y1="1197.5" x2="925.9" y2="1197.5" stroke="#231f20" stroke-width="4.6"/>
<line x1="181.7" y1="1075.8" x2="189.2" y2="1075.8" stroke="#231f20" stroke-width="4.6"/>
<line x1="933.4" y1="1075.8" x2="925.9" y2="1075.8" stroke="#231f20" stroke-width="4.6"/>
<line x1="181.7" y1="954.2" x2="189.2" y2="954.2" stroke="#231f20" stroke-width="4.6"/>
<line x1="933.4" y1="954.2" x2="925.9" y2="954.2" stroke="#231f20" stroke-width="4.6"/>
<rect x="181.7" y="832.6" width="751.7" height="608.1" fill="none" stroke="#231f20" stroke-width="4.6"/>
<path transform="translate(158.8,845.5) scale(1.0)" d="M0,0 V-27.4 H-2.6 C-3.2,-24.6 -5.3,-22.4 -9.8,-22.2 V-19.4 C-7.4,-19.4 -5,-19.9 -3.5,-20.9 V0 Z" fill="#231f20"/>
<text x="166.5" y="966.7" font-size="38.5" text-anchor="end" font-weight="normal">0.8</text>
<text x="166.5" y="1088.3" font-size="38.5" text-anchor="end" font-weight="normal">0.6</text>
<text x="166.5" y="1210" font-size="38.5" text-anchor="end" font-weight="normal">0.4</text>
<text x="166.5" y="1331.6" font-size="38.5" text-anchor="end" font-weight="normal">0.2</text>
<text x="166.5" y="1453.2" font-size="38.5" text-anchor="end" font-weight="normal">0</text>
<text x="185.2" y="1488.5" font-size="38.5" text-anchor="middle" font-weight="normal">0.5</text>
<text x="335" y="1488.5" font-size="38.5" text-anchor="middle" font-weight="normal">0.6</text>
<text x="485.8" y="1488.5" font-size="38.5" text-anchor="middle" font-weight="normal">0.7</text>
<text x="635.7" y="1488.5" font-size="38.5" text-anchor="middle" font-weight="normal">0.8</text>
<text x="786.4" y="1488.5" font-size="38.5" text-anchor="middle" font-weight="normal">0.9</text>
<path transform="translate(938.4,1487.7) scale(1.0)" d="M0,0 V-27.4 H-2.6 C-3.2,-24.6 -5.3,-22.4 -9.8,-22.2 V-19.4 C-7.4,-19.4 -5,-19.9 -3.5,-20.9 V0 Z" fill="#231f20"/>
<text x="555.6" y="1549" font-size="38.5" text-anchor="middle" font-weight="normal">Wavelength (μm)</text>
<text transform="translate(33.5,1384.6) rotate(-90)" font-size="38.9">Extinction</text>
<path transform="translate(33.3,1192) rotate(-90)" d="M0,0 V-27.4 H-2.6 C-3.2,-24.6 -5.3,-22.4 -9.8,-22.2 V-19.4 C-7.4,-19.4 -5,-19.9 -3.5,-20.9 V0 Z" fill="#231f20"/>
<text transform="translate(33.5,1184.1) rotate(-90)" font-size="38.9">–<tspan font-style="italic" dx="2">T</tspan>, absorption A</text>
<text transform="translate(80.8,1136.8) rotate(-90)" font-size="39.2" text-anchor="middle">and scattering <tspan font-style="italic">S</tspan><tspan font-size="27" dy="9.5">–</tspan></text>
<line x1="239.9" y1="881" x2="284.8" y2="881" stroke="#3c2415" stroke-width="5"/>
<line x1="239.9" y1="933.2" x2="284.8" y2="933.2" stroke="#10aee8" stroke-width="5"/>
<line x1="239.9" y1="982.5" x2="284.8" y2="982.5" stroke="#ed1c24" stroke-width="5"/>
<line x1="409.5" y1="881" x2="452" y2="881" stroke="#ef5a28" stroke-width="4.7" stroke-dasharray="14.2 14.4"/>
<line x1="409.5" y1="933.2" x2="452" y2="933.2" stroke="#27a9e1" stroke-width="4.7" stroke-dasharray="14.2 14.4"/>
<path transform="translate(320.8,892.9) scale(1.0)" d="M0,0 V-27.4 H-2.6 C-3.2,-24.6 -5.3,-22.4 -9.8,-22.2 V-19.4 C-7.4,-19.4 -5,-19.9 -3.5,-20.9 V0 Z" fill="#231f20"/>
<text x="328.8" y="893.2" font-size="38.5" text-anchor="start" font-weight="normal">–<tspan font-style="italic" dx="3">T</tspan></text>
<text x="309" y="945.5" font-size="38.5" text-anchor="start" font-weight="normal"><tspan font-style="italic">S</tspan><tspan font-size="28" dy="10">–</tspan></text>
<text x="311" y="994.8" font-size="38.5" text-anchor="start" font-weight="normal"><tspan font-style="italic">A</tspan></text>
<text x="481" y="893.8" font-size="38.5" text-anchor="start" font-weight="normal"><tspan font-style="italic">A</tspan></text>
<text x="581.5" y="893.8" font-size="38.5" text-anchor="end" font-weight="normal">disk</text>
<text x="481" y="944.6" font-size="38.5" text-anchor="start" font-weight="normal"><tspan font-style="italic">A</tspan></text>
<text x="576.5" y="944.6" font-size="38.5" text-anchor="end" font-weight="normal">ring</text>
<text x="0" y="1638" font-size="48" text-anchor="start" font-weight="bold">c</text>
<path d="M181.5,1676 L184.1,1680 L193,1697 L201,1708 L213.9,1718 L226,1727 L239.7,1738.8 L252,1756 L265.6,1775 L283.8,1798.3 L291.5,1811.3 L304.5,1825 L317.4,1838.5 L330.4,1853.5 L343.4,1872 L356.3,1892.5 L369.2,1913 L382.2,1936.5 L395.2,1957 L408.1,1975 L421,1989 L433,1991.5 L444,1983.5 L456,1969 L467,1949 L477,1943 L487,1949 L498,1972 L510,1998 L521,2021 L533,2038 L544,2049 L555,2057.5 L564,2059 L573,2052 L584,2035 L595,2006 L607,1972 L618,1935 L624,1918 L624,1930 L618,1950 L607,1985 L595,2017 L584,2046 L573,2066 L564,2080 L552.7,2083 L543,2077 L532.7,2068 L520,2052 L509.9,2032 L498.5,2002 L487,1972 L477,1962 L467,1966 L456,1985 L444,2000 L432.8,2012 L420,2011 L403,1996 L382,1967 L361.5,1931 L341,1900 L325,1884 L310,1878.6 L291.5,1881 L280,1893 L273.4,1902 L266,1920 L260.5,1940 L253,1957 L245,1985 L237,2011 L227,2030 L214,2022 L201,2009 L184,1985 L181.5,1985Z" fill="#ed1c24" fill-opacity="0.16" stroke="none"/>
<path d="M648,1870 L655,1871 L660,1876 L668,1886 L677.8,1898.8 L695.5,1934.3 L719.2,1963.9 L742.9,1999.4 L763.6,2014.2 L787.3,2014.2 L808,2011.2 L822.8,2008.3 L837,1996 L852,1984 L867,1966 L882,1951 L894,1941 L903,1899 L917.3,1881.3 L929.5,1887 L929.5,1930 L917.3,1923 L910.2,1938.4 L899.5,1940.8 L896,1967 L881.7,1970.5 L869.8,1986 L850,1995 L831.6,2014 L817,2035 L802,2052.7 L784.3,2070.4 L763.6,2085.2 L742.9,2091.1 L719.2,2082.3 L704.4,2067.5 L689.6,2040.8 L674.8,1987.6 L668,1972 L662.4,1960 L657.4,1941.5 L650.6,1916 L648,1890Z" fill="#ed1c24" fill-opacity="0.16" stroke="none"/>
<path d="M183,1979 L183,1993.8 M185,1981 L185,1992.8 M187,1983.1 L187,2003.9 M189,1985.2 L189,1995.5 M191,1987.3 L191,2006 M193,1989.4 L193,2005 M195,1991.5 L195,2001.6 M197,1993.6 L197,2011.7 M199,1995.7 L199,2005.4 M201,1997.8 L201,2014.6 M203,1999.9 L203,2010.1 M205,2002 L205,2012.6 M207,2004.1 L207,2020.7 M209,2006.2 L209,2030 M211,2008.3 L211,2019.5 M213,2010.3 L213,2023.4 M215,2012.4 L215,2032.7 M217,2014.5 L217,2040.6 M219,2016.6 L219,2036 M221,2018.7 L221,2034.9 M223,2020.8 L223,2047.4 M225,2022.9 L225,2032.7 M227,2025 L227,2049.5 M229,2019.9 L229,2034.1 M231,2014.7 L231,2026.3 M233,2009.6 L233,2020.7 M235,2004.4 L235,2019 M237,1999.3 L237,2023 M239,1994.1 L239,2006.4 M241,1989 L241,2008.5 M243,1983.9 L243,2004.4 M245,1978.7 L245,1994.4 M247,1973.6 L247,1992.4 M249,1968.4 L249,1978.6 M251,1963.3 L251,1973.4 M253,1958.1 L253,1970.9 M255,1953 L255,1974.2 M257,1947.9 L257,1964.6 M259,1942.7 L259,1957.4 M261,1937.6 L261,1957.1 M263,1932.4 L263,1949.6 M265,1927.3 L265,1941.7 M267,1922.1 L267,1945.4" stroke="#ed1c24" stroke-width="1.6" fill="none" opacity="0.13"/>
<path d="M181.5,2201.3 C181.9,2201.2 180.9,2201.6 184.1,2201 C187.3,2200.4 193.8,2199.1 200.9,2197.8 C208,2196.5 218.2,2194.8 226.8,2193.2 C235.4,2191.6 244.1,2189.8 252.7,2188 C261.3,2186.2 270,2184.3 278.6,2182.3 C287.2,2180.3 295.9,2178 304.5,2175.8 C313.1,2173.7 321.8,2172 330.4,2169.4 C339,2166.8 347.7,2163.8 356.3,2160.3 C364.9,2156.8 375.3,2152.3 382.2,2148.6 C389.1,2144.9 393.4,2141.8 397.7,2138.3 C402,2134.9 404.2,2132.9 408.1,2127.9 C412.1,2122.9 417.3,2115.9 421.4,2108.3 C425.5,2100.8 429,2092.1 432.8,2082.6 C436.6,2073.1 440.4,2059.8 444.2,2051.2 C448,2042.6 452.1,2035.6 455.7,2031.2 C459.3,2026.8 462.3,2024.4 465.6,2024.9 C468.9,2025.4 472,2029.2 475.6,2034.1 C479.2,2038.9 482.8,2047.8 487.1,2054 C491.4,2060.2 496.1,2067.1 501.3,2071.2 C506.5,2075.2 512.7,2077.6 518.4,2078.3 C524.1,2079 529.9,2077.5 535.6,2075.4 C541.3,2073.3 547,2070 552.7,2065.5 C558.4,2061 564.1,2055.9 569.8,2048.3 C575.5,2040.7 581.2,2029.8 586.9,2019.8 C592.6,2009.8 598.9,1999.3 604.1,1988.4 C609.3,1977.5 613.5,1966.1 618.3,1954.2 C623,1942.3 627.8,1928.5 632.6,1917.1 C637.4,1905.7 642.1,1892.8 646.9,1885.7 C651.6,1878.6 657,1876.5 661.1,1874.2 C665.2,1871.9 668,1871.2 671.8,1872.1 C675.6,1873 679.8,1876 683.7,1879.5 C687.7,1883 691.5,1887.5 695.5,1892.9 C699.5,1898.3 703.4,1905.7 707.4,1912.1 C711.4,1918.5 714.8,1924.6 719.2,1931.3 C723.6,1938 729.1,1945.2 734,1952.1 C738.9,1959 743.9,1966.4 748.8,1972.8 C753.7,1979.2 758.7,1985.6 763.6,1990.5 C768.5,1995.4 773.5,1998.7 778.4,2002.4 C783.3,2006.1 788.3,2010 793.2,2012.7 C798.1,2015.4 803.1,2016.9 808,2018.6 C812.9,2020.3 817.9,2021.6 822.8,2023.1 C827.7,2024.6 832.7,2026.3 837.6,2027.5 C842.5,2028.7 847.5,2029.7 852.4,2030.5 C857.3,2031.3 862.3,2032 867.2,2032.6 C872.1,2033.2 877.1,2033.6 882,2034 C886.9,2034.4 889.9,2034.7 896.8,2034.9 C903.7,2035.2 919,2035.4 923.4,2035.5" fill="none" stroke="#be1e2d" stroke-width="4.8" stroke-linejoin="round" stroke-linecap="butt" stroke-dasharray="14.2 8"/>
<path d="M181.5,1806.1 L193.1,1824.3 L206.1,1857.9 L221.6,1899.4 L237.2,1928.5 L252.7,1955.7 L268.2,1982.9 L283.8,2014 L299.3,2041.2 L314.9,2063.2 L330.4,2083.4 L344.6,2087.8 L361.5,2100.7 L377,2109.8 L392.6,2122.7 L405.5,2133.1 L422.8,2134.5 L438.5,2125.4 L454.2,2104 L468.5,2068.3 L484.8,2068.3 L499.9,2101.1 L515.6,2124 L531.3,2131.7 L547,2129.7 L561.3,2119.7 L577,2096.8 L592.6,2066.9 L608.3,2022.6 L622.6,1979.8 L638.3,1971.8 L654,1991.3 L668.3,2025.5 L683.7,2067.5 L700,2097.1 L716.2,2111.9 L732.5,2122.2 L748.8,2126.7 L763.6,2127.5 L778.4,2131.1 L793.2,2126.1 L808,2123.1 L824.2,2119.3 L840.5,2107.4 L855.3,2100 L870.1,2088.2 L886.4,2074.9 L902.7,2070.4 L917.5,2066 L930,2060" fill="none" stroke="#961c62" stroke-width="4.6" stroke-linejoin="round" stroke-linecap="butt"/>
<path d="M183.2,1681.3 L184.7,1684.7 L186.1,1689.5 L187.6,1690.1 L189.3,1692.4 L191,1694.9 L192.7,1695 L194.4,1699.2 L196.1,1702.4 L197.8,1705.8 L199.7,1704.2 L201.6,1707.1 L204.1,1721.3 L205.6,1726.6 L207.1,1727.8 L208.7,1726.3 L210.2,1732.8 L211.7,1734.5 L213.6,1737.4 L215.5,1741.6 L218.1,1754.6 L219.7,1756.1 L221.2,1760.8 L222.8,1760.7 L224.4,1763.6 L226.1,1768 L227.8,1771.2 L229.5,1777.6 L231.4,1785.1 L233.3,1794.7 L234.9,1792.5 L236.4,1792.5 L238,1791.1 L239.6,1791.3 L241.5,1797.3 L243.4,1803.4 L245.1,1805.7 L246.8,1804.4 L248.5,1802.4 L250.1,1799.5 L251.7,1795.3 L253.2,1792.7 L254.8,1790.7 L256.4,1790.9 L258,1795.7 L259.6,1795.1 L261.2,1798.6 L263.1,1793.8 L265,1794.1 L266.9,1796.7 L268.8,1795.6 L270.3,1797.4 L271.8,1801.7 L273.4,1800.2 L274.9,1803.5 L276.4,1801.4 L277.9,1800.5 L279.4,1804.1 L281,1805.6 L282.5,1803.8 L284,1803.6 L285.7,1805.7 L287.4,1809.8 L289.1,1809.6 L290.5,1807 L291.8,1808.3 L293.2,1808.2 L294.6,1808.6 L295.9,1812.9 L297.3,1810.4 L298.6,1813 L300,1813.3 L300,1822 L298.6,1823.2 L297.2,1820.9 L295.8,1823 L294.4,1821 L293,1824.6 L291.6,1822.9 L290.1,1821.6 L288.6,1819.1 L287,1819 L285.5,1817.1 L284,1817.5 L282.5,1814 L281,1816.9 L279.4,1819 L277.9,1818 L276.4,1817.7 L274.9,1816.6 L273.4,1815.5 L271.8,1817.8 L270.3,1817.4 L268.8,1815.2 L267.1,1817.3 L265.4,1820.9 L263.7,1824.6 L261.2,1822 L259.5,1821.7 L257.8,1819 L256.1,1821.6 L254.4,1820.4 L252.7,1819.3 L251,1816.8 L248.5,1830.6 L246.8,1832.7 L245.1,1829.5 L243.4,1828.9 L241.5,1826.4 L239.6,1818 L237.9,1822.4 L236.2,1823 L234.5,1824.2 L232.8,1825.2 L231.2,1823.3 L229.5,1827 L228.2,1799.3 L226.7,1793.1 L225.2,1793.4 L223.6,1793.6 L222.1,1787.6 L220.6,1785.6 L219,1789.1 L217.4,1786.2 L215.9,1785.2 L214.3,1786.3 L213,1763 L211.1,1760.4 L209.2,1750.3 L207.7,1753.7 L206.2,1749.3 L204.6,1749.9 L203.1,1747.6 L201.6,1749.4 L199,1728.7 L197.5,1728.1 L196,1727.7 L194.6,1727.4 L193.1,1723.9 L191.6,1723.5 L190.1,1720.9 L187.6,1702.5 L186.1,1701.5 L184.7,1697.9 L183.2,1693.4 Z" fill="#ed1c24" stroke="#ed1c24" stroke-width="1" stroke-linejoin="round"/>
<path d="M296,1818.5 L296.5,1819.4 L297.2,1820.5 L298,1821.7 L299,1823.2 L300,1824.2 L301,1825.9 L302.2,1825.9 L303.3,1828 L304.5,1830.1 L305.4,1830.6 L306.4,1832.1 L307.4,1831.8 L308.5,1833.4 L309.6,1834.1 L310.7,1835.7 L311.8,1836.8 L312.9,1837 L314.1,1838.5 L315.2,1839.7 L316.3,1841.9 L317.4,1842.8 L318.4,1843 L319.4,1845.1 L320.4,1845.2 L321.4,1847.1 L322.4,1847.5 L323.4,1848.4 L324.4,1851 L325.4,1851.2 L326.4,1852.4 L327.4,1854.9 L328.4,1855.9 L329.4,1856.3 L330.4,1858.6 L331.3,1859.2 L332.3,1860.6 L333.2,1861.1 L334.1,1863.5 L335,1864.4 L336,1866.1 L336.9,1867.2 L337.8,1867.6 L338.8,1869 L339.7,1870 L340.6,1871.3 L341.5,1872.6 L342.5,1874.3 L343.4,1876.2 L344.2,1876.4 L345,1878.8 L345.8,1879.5 L346.6,1880.7 L347.4,1882.8 L348.2,1883.6 L349.1,1884.6 L349.9,1886.2 L350.7,1887.9 L351.5,1888.2 L352.3,1891 L353.1,1890.8 L353.9,1893.3 L354.7,1894.7 L355.5,1894.7 L356.3,1897.3 L357.1,1897.9 L357.9,1899.5 L358.7,1899.9 L359.5,1901.2 L360.3,1902.7 L361.1,1905.2 L361.9,1905.2 L362.7,1907.4 L363.5,1909 L364.4,1910.3 L365.2,1910.6 L366,1911.9 L366.8,1913.5 L367.6,1915.2 L368.4,1915.5 L369.2,1917.9 L370,1919.3 L370.7,1920.7 L371.5,1920.7 L372.3,1923.6 L373,1923.6 L373.8,1925.4 L374.5,1927.2 L375.3,1929.1 L376.1,1929.6 L376.8,1931.9 L377.6,1932.7 L378.4,1933.8 L379.1,1935.1 L379.9,1936.3 L380.7,1937.5 L381.4,1938.9 L382.2,1941.1 L383,1943 L383.8,1943 L384.6,1944.2 L385.5,1947 L386.3,1947.6 L387.1,1948.7 L387.9,1949.8 L388.7,1951.6 L389.5,1953.3 L390.3,1954 L391.1,1955.2 L392,1955.9 L392.8,1958.5 L393.6,1958.3 L394.4,1960.3 L395.2,1962 L396.1,1962.3 L397,1964.6 L398,1966.3 L398.9,1967.2 L399.8,1968.8 L400.7,1969 L401.6,1970.8 L402.5,1971.7 L403.5,1974.1 L404.4,1974.4 L405.3,1975.9 L406.2,1978 L407.2,1979 L408.1,1980.4 L409.1,1980.8 L410.1,1982.1 L411.2,1983.8 L412.2,1984.7 L413.3,1985.7 L414.3,1987.1 L415.4,1987.9 L416.4,1989.4 L417.4,1991.4 L418.5,1992.4 L419.5,1992.8 L420.4,1993.4 L421.4,1993.8 L423.1,1994.5 L424.8,1995.6 L426.4,1996.9 L428,1997.4 L429.6,1996.6 L431.2,1997.2 L432.8,1996.8 L434.1,1996.3 L435.3,1995.7 L436.6,1995.1 L437.9,1993.7 L439.1,1993.3 L440.4,1991.6 L441.7,1990.8 L442.9,1990.1 L444.2,1988.7 L445.2,1987.1 L446.1,1987.2 L447.1,1985.6 L448,1984.4 L449,1982.4 L449.9,1982.1 L450.9,1980.4 L451.9,1979.8 L452.8,1978.2 L453.8,1977.4 L454.7,1975.7 L455.7,1974.6 L456.5,1972.7 L457.2,1971.9 L458,1970.6 L458.8,1969.4 L459.6,1967.1 L460.3,1966.4 L461.1,1965 L461.9,1963.2 L462.6,1962.2 L463.4,1960.8 L464.2,1958.7 L464.9,1957.4 L465.7,1955.7 L466.4,1955.7 L467.1,1954.9 L468.6,1952.4 L470.1,1951.3 L471.5,1950.2 L472.9,1949.4 L474.3,1947.9 L475.7,1948.5 L477.1,1948 L478.5,1948.3 L479.9,1948.2 L481.3,1949.1 L482.7,1950.1 L484.1,1951 L485.6,1952.7 L487.1,1953.4 L487.8,1954.6 L488.5,1956.1 L489.2,1957.7 L489.9,1958.2 L490.6,1960.3 L491.3,1961.6 L492,1962.1 L492.7,1964.3 L493.4,1965.5 L494.2,1966.8 L494.9,1968.5 L495.6,1970.4 L496.3,1971.8 L497.1,1973.4 L497.8,1974.7 L498.5,1976.9 L499.1,1978.2 L499.8,1979.9 L500.4,1981.3 L501,1982.2 L501.7,1984.7 L502.3,1984.7 L502.9,1986.8 L503.6,1988 L504.2,1989.7 L504.8,1990.7 L505.5,1993.3 L506.1,1994 L506.7,1994.9 L507.4,1997.3 L508,1997.9 L508.6,2000 L509.3,2001.1 L509.9,2002.8 L510.6,2004.9 L511.3,2006.2 L512,2007.1 L512.8,2009.2 L513.5,2010.5 L514.2,2011.5 L514.9,2012.6 L515.6,2014.8 L516.3,2016.2 L517,2018.2 L517.7,2019.6 L518.4,2020.4 L519.2,2021.4 L519.9,2023.6 L520.6,2023.4 L521.3,2024.9 L522.2,2027.1 L523.1,2028.7 L523.9,2029.4 L524.8,2031.6 L525.7,2033.4 L526.6,2033.9 L527.4,2035.3 L528.3,2036.3 L529.2,2037.6 L530.1,2039.9 L530.9,2040.1 L531.8,2042.2 L532.7,2043.3 L533.8,2044.1 L535,2044.9 L536.1,2047.3 L537.3,2047.7 L538.4,2048.7 L539.5,2049.6 L540.7,2051.7 L541.8,2052 L543,2052.7 L544.1,2054 L545.4,2054.5 L546.7,2056.4 L548,2057.3 L549.3,2058.1 L550.6,2059.9 L551.9,2060.9 L553.2,2060.4 L554.4,2062 L555.5,2062.2 L557.4,2064.2 L559.1,2064.5 L560.8,2064 L562.4,2064 L564.1,2063.4 L565.3,2064.3 L566.5,2062.6 L567.6,2062.2 L568.8,2061 L570,2060.1 L571.3,2058.7 L572.7,2057.3 L573.5,2055.3 L574.3,2055.4 L575.1,2053.6 L576,2052.8 L576.9,2051.3 L577.8,2050 L578.7,2049.1 L579.6,2047.6 L580.5,2046 L581.4,2045.1 L582.3,2043.3 L583.2,2040.8 L584.1,2039.4 L584.7,2038.6 L585.2,2038.1 L585.8,2036.8 L586.4,2035 L587,2032.8 L587.5,2032.7 L588.1,2030.7 L588.7,2029.6 L589.2,2028.4 L589.8,2026.8 L590.4,2025.1 L590.9,2024.3 L591.5,2021.9 L592.1,2020.4 L592.6,2019.6 L593.2,2017 L593.8,2015.6 L594.4,2014.9 L594.9,2012.1 L595.5,2011.7 L596,2010.2 L596.5,2008.4 L596.9,2006.9 L597.4,2006.3 L597.9,2005.1 L598.4,2002.5 L598.8,2001.7 L599.3,2000.4 L599.8,1998.9 L600.2,1997.2 L600.7,1995.5 L601.2,1994.8 L601.7,1993.7 L602.1,1991 L602.6,1989.9 L603.1,1989.3 L603.6,1987.8 L604,1986.1 L604.5,1983.7 L605,1983.3 L605.5,1982.2 L606,1980.8 L606.4,1978.8 L606.9,1976.3 L607.4,1976.1 L607.8,1973.6 L608.3,1972.8 L608.8,1971.8 L609.2,1969.9 L609.7,1967.5 L610.2,1966.2 L610.6,1965.6 L611.1,1962.8 L611.6,1962 L612.1,1960.1 L612.5,1958.2 L613,1957.3 L613.5,1954.9 L613.9,1953.4 L614.4,1952.3 L614.9,1950.3 L615.3,1948.8 L615.8,1948.2 L616.2,1947 L616.6,1945.8 L617.1,1943.3 L617.5,1942.4 L617.9,1940.9 L618.3,1940.1 L618.9,1938.2 L619.4,1937.2 L619.9,1934.7 L620.5,1932.5 L621,1932 L621.5,1929.6 L622,1928.9 L622.6,1927.2 L623,1926.5 L623.5,1924.5 L624,1923.2 L624.5,1921.3 L624.9,1920.5 L625.3,1918.7 L625.7,1918.3 L626.1,1916.6 L626.5,1914.8 L626.9,1913.8 L627.5,1912.1 L628,1910.7 L628.5,1907.9 L629,1907 L629.4,1905.1 L629.8,1902.6 L630.1,1902 L630.5,1899.6 L630.7,1898.5 L631,1898.1 L631.2,1897.1" fill="none" stroke="#ed1c24" stroke-width="5.2" stroke-linejoin="round" stroke-linecap="butt"/>
<path d="M648,1882.3 L648.8,1883.4 L649.9,1884.2 L651.3,1884.6 L652.7,1885.5 L654,1886.6 L654.7,1888.6 L655.4,1889.4 L656.2,1891.1 L656.9,1891.7 L657.7,1893.7 L658.4,1894.3 L659.2,1896.6 L659.9,1898 L660.7,1899.1 L661.3,1900.5 L661.8,1902.1 L662.4,1902.8 L663,1904.9 L663.6,1906.8 L664.2,1907.5 L664.8,1909.9 L665.4,1911.2 L665.9,1912.9 L666.5,1913.4 L667,1914.3 L667.5,1916.6 L668.4,1918.4 L669.3,1919.3 L670.2,1920 L671,1921.3 L671.8,1923.3 L672.6,1924.3 L673.2,1926.5 L673.7,1927.2 L674.3,1927.9 L674.8,1929.9 L675.4,1930.9 L675.9,1933.2 L676.5,1934.7 L677.1,1935.7 L677.7,1937.5 L678.2,1938.9 L678.6,1940.4 L679,1942 L679.4,1941.9 L679.8,1943.8 L680.3,1945.6 L680.7,1946.6 L681.2,1948.6 L681.8,1949.4 L682.4,1952.3 L683,1953.3 L683.7,1954.4 L684.2,1956.5 L684.8,1957.2 L685.4,1958.3 L686.1,1960.1 L686.7,1961 L687.4,1962.5 L688.1,1964.9 L688.9,1966.1 L689.6,1966.4 L690.3,1969.1 L691.1,1969.3 L691.8,1971.3 L692.6,1973.6 L693.3,1974.6 L694.1,1975.6 L694.8,1977.1 L695.5,1978.5 L696.2,1979.5 L696.9,1982.3 L697.6,1982.3 L698.3,1984.3 L699,1986.3 L699.7,1987.3 L700.4,1989.7 L701.1,1990 L701.8,1992.6 L702.5,1993.9 L703.2,1995 L703.9,1996.7 L704.6,1997.4 L705.3,1999.3 L706,2000.5 L706.7,2001.3 L707.4,2002.4 L708.4,2004.3 L709.3,2005.2 L710.3,2006 L711.2,2008.3 L712.2,2008.7 L713.1,2010.2 L714.1,2011.7 L715,2011.9 L716,2012.7 L717.1,2014.1 L718.1,2016 L719.2,2017 L720.1,2017.9 L721,2019.4 L722,2021.4 L722.9,2021.5 L723.9,2023.1 L724.9,2025.1 L725.9,2026 L726.9,2026.7 L727.9,2028.3 L729,2029.5 L730,2030.2 L731,2031.7 L732,2032.6 L733,2034.5 L734,2034.6 L735.3,2036.3 L736.7,2037.9 L738,2038.9 L739.4,2039 L740.7,2040.2 L742.1,2040.6 L743.4,2041.4 L744.8,2042.2 L746.1,2043.3 L747.5,2044.1 L748.8,2043.5 L750.4,2043.4 L752.1,2044.3 L753.7,2043.8 L755.4,2043.7 L757,2044.8 L758.7,2043.6 L760.3,2044.4 L762,2043.7 L763.6,2044.5 L765.2,2044.3 L766.9,2043 L768.5,2043.1 L770.2,2044.3 L771.8,2043.6 L773.5,2043.2 L775.1,2043.5 L776.8,2043.2 L778.4,2042.3 L779.7,2041.8 L781.1,2040.7 L782.4,2040.5 L783.8,2039.5 L785.1,2039.6 L786.5,2038.9 L787.8,2037.4 L789.2,2037.4 L790.5,2035.8 L791.9,2035 L793.2,2035.1 L794.5,2034.1 L795.9,2034.1 L797.2,2032.9 L798.6,2032.2 L799.9,2030.5 L801.3,2030.9 L802.6,2028.8 L804,2028.9 L805.3,2028.5 L806.7,2027.6 L808,2026.6 L809.2,2025.1 L810.5,2024.5 L811.7,2023.8 L812.9,2021.8 L814.2,2022.2 L815.4,2021.1 L816.6,2019.4 L817.9,2018.9 L819.1,2017.3 L820.3,2016 L821.6,2015.6 L822.8,2013.5 L824,2013.6 L825.1,2012.8 L826.3,2010.4 L827.6,2010.3 L828.8,2007.6 L830,2007.6 L831.2,2005.4 L832.4,2005.3 L833.5,2003.2 L834.6,2002.9 L835.7,2000.4 L836.7,1999.6 L837.6,1999.9 L839.4,1998.2 L840.9,1997.2 L842.3,1995.7 L843.5,1995.4 L844.7,1995 L846,1993.6 L847.1,1994 L848.2,1992.4 L849.3,1991.4 L850.3,1989.7 L851.3,1987.9 L852.2,1986.3 L853.1,1986.4 L854.9,1984.1 L856.4,1984.1 L857.9,1982.3 L858.5,1981.2 L859,1978.9 L859.6,1977.1 L860.1,1975.9 L860.7,1973.3 L861.3,1972.5 L861.9,1970.6 L862.6,1970.2 L863.7,1970.1 L864.9,1971.9 L866.2,1973.3 L867.5,1974.7 L868.7,1975.9 L869.8,1976.6 L870.5,1976.5 L871.1,1974.6 L871.7,1972.7 L872.3,1971.2 L872.8,1969.2 L873.4,1967.9 L873.9,1966.5 L874.5,1964.7 L875.3,1962.6 L876,1961.4 L876.8,1960.3 L877.5,1959.1 L878.4,1957.7 L879.3,1957.1 L880,1955.1 L880.7,1954 L881.5,1952.5 L882.3,1950.8 L883.1,1949.6 L883.9,1947.1 L884.8,1946.5 L885.6,1946.2 L886.4,1943.6 L887.9,1944.5 L889.4,1944.8 L890.9,1945.3 L892.3,1946.4 L893.6,1948.5 L894.9,1947 L896.1,1948.1 L897.2,1945.4 L898.3,1942.9 L898.5,1941.1 L898.8,1941.2 L899,1940.5 L899.2,1937.7 L899.5,1937 L899.7,1936.2 L899.9,1932.9 L900.2,1931.6 L900.4,1930.4 L900.6,1928.9 L900.9,1925.4 L901.1,1924.8 L901.3,1921.7 L901.6,1920 L901.8,1920.5 L902.1,1916.8 L902.3,1917.5 L902.6,1915.9 L902.8,1914.7 L903.1,1914 L905,1911.9 L907,1912.5 L909,1913.3 L909.9,1911.8 L910.7,1912.3 L911.6,1910.7 L912.5,1909.2 L913.4,1906.3 L914.2,1905.6 L915,1903.3 L915.7,1903 L916.4,1901.1 L917.1,1899.8 L917.7,1897.3 L918.4,1895.6 L919,1894.6 L919.7,1892.2 L920.9,1893.6 L922.1,1893.7 L923.3,1896.3 L924.5,1897.1 L926.3,1900.1 L928.1,1898.7 L929.3,1900.4" fill="none" stroke="#ed1c24" stroke-width="5.2" stroke-linejoin="round" stroke-linecap="butt"/>
<path d="M181.5,1668 L182.8,1669.7 L183.6,1671.4 L184.6,1670.9 L185.8,1672.5 L187.1,1672.5 L188.5,1673.6 L190,1675.6 L191.5,1675.6 L192.9,1677.2 L194.4,1678 L195.7,1679.1 L196.8,1680.1 L197.9,1680.7 L198.9,1682.6 L200,1682.6 L201.1,1683.9 L202.2,1684.7 L203.3,1686.2 L204.4,1687.5 L205.5,1689.3 L206.5,1689.7 L207.6,1690.5 L208.7,1691.9 L209.8,1694 L210.8,1693.9 L211.9,1695.9 L212.9,1696.7 L213.9,1698.3 L215,1699.1 L216,1700.8 L217.1,1701.7 L218.2,1703.1 L219.3,1704.7 L220.4,1705.4 L221.6,1705.9 L222.7,1706.8 L223.9,1709.1 L225,1709.4 L226.2,1709.9 L227.4,1711.9 L228.6,1712.4 L229.9,1713.5 L231.1,1714.7 L232.3,1714.9 L233.6,1716 L234.8,1717.7 L236,1717.8 L237.2,1719.8 L238.2,1719.8 L239.3,1721.7 L240.3,1722.8 L241.4,1724.3 L242.5,1725.2 L243.5,1725.9 L244.6,1726.6 L245.6,1727.7 L246.7,1729.4 L247.7,1730.6 L248.8,1731.1 L249.8,1733.4 L250.8,1734 L251.7,1735.4 L252.7,1735.8 L253.8,1737.1 L254.8,1738 L255.9,1739.7 L256.9,1740.8 L257.8,1742.2 L258.8,1743.3 L259.8,1745.2 L260.7,1746.4 L261.7,1746.6 L262.7,1748.1 L263.6,1748.9 L264.6,1750.8 L265.6,1752.4 L266.7,1752.5 L267.8,1754.6 L268.8,1755.1 L269.9,1756 L271,1758.3 L272.1,1758.9 L273.2,1759.8 L274.3,1761.4 L275.4,1762.3 L276.4,1763.7 L277.5,1764.8 L278.6,1765.9 L279.8,1767.3 L281,1767.9 L282.1,1768.7 L283.3,1769.7 L284.5,1770.8 L285.6,1772.3 L286.8,1773.1 L288,1774.7 L289.1,1775.4 L290.3,1776.7 L291.5,1778.3 L292.6,1778.1 L293.7,1779.2 L294.7,1780.5 L295.8,1782 L296.9,1783.5 L298,1784.9 L299.1,1785.6 L300.2,1787.7 L301.3,1787.6 L302.3,1790 L303.4,1790.3 L304.5,1792.4 L305.6,1792.4 L306.7,1794.9 L307.7,1795.8 L308.8,1797.3 L309.9,1797.9 L310.9,1798.5 L312,1800.8 L313.1,1801.3 L314.2,1802 L315.2,1803.9 L316.3,1804.9 L317.4,1806.1 L318.5,1806.8 L319.6,1808 L320.6,1809.8 L321.7,1810.8 L322.8,1811.6 L323.9,1813.2 L325,1814.9 L326.1,1816 L327.1,1816.9 L328.2,1817.9 L329.3,1819.1 L330.4,1820 L331.5,1821.1 L332.6,1822.5 L333.7,1823.1 L334.7,1825.1 L335.8,1826.1 L336.9,1827 L338,1827.2 L339.1,1828.8 L340.2,1829.9 L341.2,1830.5 L342.3,1832.8 L343.4,1833.7 L344.5,1834.4 L345.6,1835.9 L346.6,1836.4 L347.7,1837.6 L348.8,1839.2 L349.9,1840.7 L350.9,1841.8 L352,1842.1 L353.1,1844.2 L354.2,1845.8 L355.2,1846.7 L356.3,1848.2 L357.4,1849.4 L358.4,1849.5 L359.5,1850.8 L360.6,1852.2 L361.7,1853.9 L362.7,1854.2 L363.8,1856.1 L364.9,1857.2 L366,1857.9 L367,1859.3 L368.1,1861.1 L369.2,1862.2 L370.1,1862.7 L370.9,1864.6 L371.8,1865 L372.7,1866.5 L373.5,1868.6 L374.4,1869.8 L375.3,1870.4 L376.1,1871.7 L377,1873.5 L377.9,1875.2 L378.7,1876.3 L379.6,1878 L380.5,1879 L381.3,1880.4 L382.2,1881.3 L383.1,1882.3 L384.1,1883.7 L385,1885.1 L385.9,1886.4 L386.8,1888.1 L387.8,1888.6 L388.7,1889.5 L389.6,1891.7 L390.6,1892.2 L391.5,1893.6 L392.4,1894.3 L393.3,1896.4 L394.3,1896.7 L395.2,1897.8 L396.4,1899.8 L397.6,1900.6 L398.8,1901.5 L399.9,1903.5 L401.1,1904 L402.3,1905 L403.5,1906.8 L404.7,1907.5 L405.8,1908.4 L407,1908.6 L408.1,1910.1 L409.7,1910.8 L411.2,1912 L412.8,1912.1 L414.4,1913.4 L415.9,1914 L417.3,1913.9 L418.7,1914.8 L420,1915.4 L421.8,1916.3 L423.4,1916.6 L424.8,1916.8 L426.3,1916 L428,1916.7 L429.3,1916.7 L430.7,1915.8 L432.1,1916.1 L433.6,1916.4 L435.2,1916.1 L436.8,1915.6 L438.5,1913.6 L439.7,1913.7 L440.9,1913.4 L442.1,1912.4 L443.4,1911.1 L444.7,1909.8 L446.1,1910.1 L447.4,1909 L448.8,1907.7 L450.1,1906.2 L451.5,1905.8 L452.8,1904.6 L453.9,1903.5 L455,1902.3 L456.2,1900.7 L457.3,1899.5 L458.4,1898.4 L459.6,1897.1 L460.7,1896.1 L461.8,1894.4 L462.9,1894.1 L464,1892.4 L465.1,1891.1 L466.1,1890.4 L467.1,1889.7 L468.7,1888.7 L470.2,1888.2 L471.6,1886.5 L473,1886 L474.4,1885.6 L475.7,1885 L477.1,1885.6 L478.5,1884.6 L480.1,1884.4 L481.7,1885.3 L483.2,1885.8 L484.8,1886.4 L486.4,1886.7 L488.1,1887.2 L489.9,1889 L491,1889.6 L492.1,1890 L493.3,1891 L494.5,1892.6 L495.7,1893.7 L496.9,1894.7 L498.1,1894.7 L499.3,1896.2 L500.6,1897.5 L501.8,1898.4 L503,1900.5 L504.2,1900.8 L505.2,1903 L506.2,1903.7 L507.2,1904.9 L508.3,1905.9 L509.3,1907.8 L510.3,1908.5 L511.3,1910.2 L512.3,1911.5 L513.3,1912.5 L514.3,1914.2 L515.4,1914.7 L516.4,1915.8 L517.4,1917.8 L518.4,1918.5 L519.4,1919.5 L520.4,1921.2 L521.5,1922.2 L522.5,1923 L523.5,1925.3 L524.5,1926.1 L525.5,1928 L526.6,1928.6 L527.6,1930.4 L528.6,1930.7 L529.6,1931.8 L530.7,1933.4 L531.7,1934.9 L532.7,1936.1 L533.9,1937 L535.1,1937.5 L536.3,1939.1 L537.5,1939.7 L538.7,1941.3 L539.9,1943.2 L541,1943.4 L542.2,1944.9 L543.4,1945.8 L544.6,1946.1 L545.8,1947.8 L547,1947.8 L548.3,1948.9 L549.6,1950.5 L551,1950.8 L552.3,1952.9 L553.7,1953 L555,1954.1 L556.3,1955.4 L557.6,1954.9 L558.9,1956.8 L560.1,1955.9 L561.3,1957.1 L563.1,1957.7 L564.8,1958.4 L566.4,1957.6 L568,1958.3 L569.5,1957.6 L571.1,1956.9 L572.7,1955.9 L574,1955.5 L575.2,1955.1 L576.5,1954.4 L577.8,1953.7 L579,1953.4 L580.3,1951.8 L581.6,1951.1 L582.8,1949.1 L584.1,1947.9 L585,1947.7 L585.9,1946.9 L586.7,1944.9 L587.6,1943.3 L588.5,1942.4 L589.4,1941.2 L590.2,1939.9 L591.1,1938.8 L592,1937 L592.9,1936 L593.7,1934.7 L594.6,1933.2 L595.5,1931.6 L596.2,1930.2 L596.9,1928.4 L597.6,1927.9 L598.4,1925.8 L599.1,1925.3 L599.8,1923.3 L600.5,1922.2 L601.2,1920.6 L601.9,1919.4 L602.6,1917.5 L603.3,1916.3 L604,1915.1 L604.8,1913 L605.5,1911.8 L606.2,1910 L606.9,1908.5 L607.5,1907 L608,1906 L608.6,1904.9 L609.2,1902.8 L609.7,1901.4 L610.3,1900.9 L610.8,1898.5 L611.4,1898.1 L612,1896.6 L612.5,1894.4 L613.1,1893.5 L613.6,1891.5 L614.2,1891 L614.8,1888.5 L615.4,1886.9 L615.9,1885.3 L616.5,1884.8 L617.1,1882.6 L617.7,1881.2 L618.3,1880.7 L618.9,1878.9 L619.5,1877.5 L620.1,1875.7 L620.7,1874.2 L621.4,1871.7 L622,1871.2 L622.7,1868.9 L623.4,1867.9 L624,1865.7 L624.7,1864.7 L625.4,1861.8 L626,1861.5 L626.6,1858.7 L627.3,1857.8 L627.9,1856.3 L628.4,1855.6 L628.9,1853.9 L629.4,1853 L629.9,1851.8 L630.3,1850.1 L630.7,1848.8 L631,1848.5" fill="none" stroke="#3c2415" stroke-width="5.3" stroke-linejoin="round" stroke-linecap="butt"/>
<path d="M647,1831.6 L648.3,1831.4 L650.7,1830.5 L651.8,1829.5 L653.1,1829.5 L654.4,1827.2 L655.9,1826.8 L657.5,1826.4 L659.2,1824.7 L660.7,1825.2 L662.4,1825.2 L664.2,1824.6 L666,1825.3 L667.8,1826 L669.5,1826 L671,1826.8 L672.6,1826.5 L674.1,1827.1 L675.5,1827.5 L676.8,1828.8 L678.1,1830.2 L679.5,1830.8 L680.6,1832.1 L681.7,1832.8 L682.8,1834.7 L683.9,1835.2 L684.9,1836.9 L686,1838.8 L687,1840.1 L688,1840.8 L689.4,1841.7 L690.7,1843.1 L692,1844 L693.3,1845 L694.7,1846.4 L696.3,1846 L698,1847.1 L699.7,1847.2 L701.5,1846.4 L703.2,1847.5 L704.4,1848.5 L705.6,1848.9 L706.7,1850.7 L707.9,1852.7 L709.1,1853 L710.3,1855 L711.6,1855.6 L712.8,1857.3 L714,1858.7 L715.3,1858.8 L716.6,1859.6 L717.9,1860.7 L719.2,1862.4 L720.5,1862.8 L721.8,1864 L722.9,1865.6 L724.1,1867.3 L725.2,1867.7 L726.3,1868.8 L727.4,1870.3 L728.5,1870.6 L729.7,1872.5 L730.8,1873.1 L731.9,1874.9 L733,1876.5 L734.1,1876.5 L735.3,1878.4 L736.4,1879.8 L737.5,1880.4 L738.6,1881.8 L739.7,1884 L740.9,1885.2 L742,1885.2 L743.1,1887.1 L744.2,1888.5 L745.3,1888.5 L746.5,1890 L747.6,1890.2 L748.7,1891.6 L749.9,1893.1 L751,1894 L752.2,1895.4 L753.3,1895.5 L754.3,1897 L755.4,1898.8 L756.5,1899.6 L757.6,1900.7 L758.7,1901.8 L759.9,1903.7 L761.1,1904.3 L762.3,1904.6 L763.6,1906.6 L764.8,1906.8 L766.1,1907.7 L767.4,1908.1 L768.7,1909.1 L770.1,1909.6 L771.5,1909.9 L772.9,1911.3 L774.3,1911.1 L775.7,1912.7 L777,1912.3 L778.4,1914 L779.7,1914.7 L781.1,1915 L782.4,1916 L783.8,1916.1 L785.1,1917.5 L786.5,1917.8 L787.8,1918.2 L789.2,1919.9 L790.5,1919.7 L791.9,1920.3 L793.2,1921.5 L794.7,1921.4 L796.2,1922.3 L797.6,1922 L799.1,1923.4 L800.6,1923 L802.1,1923.1 L803.6,1924.7 L805,1923.8 L806.5,1925.2 L808,1925.5 L809.6,1925.2 L811.3,1924.6 L812.9,1924.8 L814.6,1925.2 L816.2,1925.5 L817.9,1925.8 L819.5,1926.3 L821.2,1925.4 L822.8,1924.9 L824.3,1925.2 L825.9,1924.3 L827.4,1923.8 L829,1924 L830.6,1923.7 L832.1,1922.3 L833.6,1922.3 L835,1922.2 L836.4,1921.8 L837.6,1920.8 L839.4,1921 L840.9,1919.4 L842.3,1919.7 L843.5,1919.3 L844.7,1918.9 L846,1917.6 L847.3,1916.1 L848.5,1915 L849.8,1914.6 L851,1912.9 L852.1,1912.4 L853.1,1910.5 L854.2,1910.2 L855.2,1908.2 L856.1,1906.7 L857,1905.8 L857.9,1905 L859,1903.7 L860.1,1902 L861.3,1900.6 L862.6,1900.4 L863.9,1901.4 L865.3,1901.8 L866.8,1903.5 L868.3,1902.9 L869.8,1904 L870.6,1903.1 L871.4,1901.5 L872.3,1900.1 L873.1,1898.5 L873.9,1897.3 L874.7,1894.4 L875.5,1893.6 L876.2,1892.1 L876.9,1890.6 L878.3,1889.6 L879.4,1888.6 L880.6,1886.5 L881.7,1886.5 L882.5,1884.6 L883.2,1883.1 L883.9,1881.6 L884.7,1878.6 L885.5,1878.4 L886.4,1876.9 L888.1,1877.6 L890.1,1876.6 L892,1878.4 L893.6,1878.3 L895,1877.8 L896.1,1877.5 L897.1,1873.2 L897.4,1873.3 L897.7,1872 L898,1870.6 L898.3,1868.3 L898.6,1865.8 L898.9,1864.2 L899.2,1863.2 L899.5,1860.4 L899.8,1858.4 L900.1,1857.5 L900.4,1856.3 L900.7,1855.3 L901.6,1851.5 L902.5,1851.3 L903.4,1849.3 L904.3,1849.8 L905.4,1849.4 L906.5,1854 L907.8,1854.2 L908.5,1854.4 L909.3,1853.2 L910.1,1851.3 L911,1848 L911.8,1846.8 L912.6,1845.1 L913.6,1844.8 L914.5,1841.9 L915.5,1840.5 L916.4,1838.9 L917.3,1837.7 L918.6,1837.3 L919.7,1835.5 L920.9,1833.5 L921.8,1835 L922.7,1835.9 L923.6,1837.9 L924.5,1839.4 L925.2,1841.6 L926,1842.5 L926.7,1844.4 L927.4,1846.3 L928,1846.2 L928.6,1846.1 L929.1,1845.3 L929.5,1841.2 L929.8,1840.9" fill="none" stroke="#3c2415" stroke-width="5.3" stroke-linejoin="round" stroke-linecap="butt"/>
<line x1="330.1" y1="2237.1" x2="330.1" y2="2229.6" stroke="#231f20" stroke-width="4.6"/>
<line x1="330.1" y1="1629.5" x2="330.1" y2="1637" stroke="#231f20" stroke-width="4.6"/>
<line x1="480.7" y1="2237.1" x2="480.7" y2="2229.6" stroke="#231f20" stroke-width="4.6"/>
<line x1="480.7" y1="1629.5" x2="480.7" y2="1637" stroke="#231f20" stroke-width="4.6"/>
<line x1="631.3" y1="2237.1" x2="631.3" y2="2229.6" stroke="#231f20" stroke-width="4.6"/>
<line x1="631.3" y1="1629.5" x2="631.3" y2="1637" stroke="#231f20" stroke-width="4.6"/>
<line x1="781.9" y1="2237.1" x2="781.9" y2="2229.6" stroke="#231f20" stroke-width="4.6"/>
<line x1="781.9" y1="1629.5" x2="781.9" y2="1637" stroke="#231f20" stroke-width="4.6"/>
<line x1="179.5" y1="2115.6" x2="187" y2="2115.6" stroke="#231f20" stroke-width="4.6"/>
<line x1="932.5" y1="2115.6" x2="925" y2="2115.6" stroke="#231f20" stroke-width="4.6"/>
<line x1="179.5" y1="1994.1" x2="187" y2="1994.1" stroke="#231f20" stroke-width="4.6"/>
<line x1="932.5" y1="1994.1" x2="925" y2="1994.1" stroke="#231f20" stroke-width="4.6"/>
<line x1="179.5" y1="1872.5" x2="187" y2="1872.5" stroke="#231f20" stroke-width="4.6"/>
<line x1="932.5" y1="1872.5" x2="925" y2="1872.5" stroke="#231f20" stroke-width="4.6"/>
<line x1="179.5" y1="1751" x2="187" y2="1751" stroke="#231f20" stroke-width="4.6"/>
<line x1="932.5" y1="1751" x2="925" y2="1751" stroke="#231f20" stroke-width="4.6"/>
<rect x="179.5" y="1629.5" width="753" height="607.6" fill="none" stroke="#231f20" stroke-width="4.6"/>
<path transform="translate(157.5,1640.4) scale(1.0)" d="M0,0 V-27.4 H-2.6 C-3.2,-24.6 -5.3,-22.4 -9.8,-22.2 V-19.4 C-7.4,-19.4 -5,-19.9 -3.5,-20.9 V0 Z" fill="#231f20"/>
<text x="164.7" y="1763.3" font-size="38.5" text-anchor="end" font-weight="normal">0.8</text>
<text x="164.7" y="1884.8" font-size="38.5" text-anchor="end" font-weight="normal">0.6</text>
<text x="164.7" y="2006.4" font-size="38.5" text-anchor="end" font-weight="normal">0.4</text>
<text x="164.7" y="2127.9" font-size="38.5" text-anchor="end" font-weight="normal">0.2</text>
<text x="164.7" y="2249.4" font-size="38.5" text-anchor="end" font-weight="normal">0</text>
<text x="182.4" y="2287" font-size="38.5" text-anchor="middle" font-weight="normal">0.5</text>
<text x="334.3" y="2287" font-size="38.5" text-anchor="middle" font-weight="normal">0.6</text>
<text x="485" y="2287" font-size="38.5" text-anchor="middle" font-weight="normal">0.7</text>
<text x="636.1" y="2287" font-size="38.5" text-anchor="middle" font-weight="normal">0.8</text>
<text x="787.2" y="2287" font-size="38.5" text-anchor="middle" font-weight="normal">0.9</text>
<path transform="translate(937.8,2286.5) scale(1.0)" d="M0,0 V-27.4 H-2.6 C-3.2,-24.6 -5.3,-22.4 -9.8,-22.2 V-19.4 C-7.4,-19.4 -5,-19.9 -3.5,-20.9 V0 Z" fill="#231f20"/>
<text x="552.5" y="2342.3" font-size="38.5" text-anchor="middle" font-weight="normal">Wavelength (μm)</text>
<text transform="translate(74.2,1934.5) rotate(-90)" font-size="38.9" text-anchor="middle">Ratios, transmission</text>
<line x1="399.2" y1="1724.5" x2="477.2" y2="1724.5" stroke="#3c2415" stroke-width="5"/>
<line x1="548" y1="1683.6" x2="616.7" y2="1683.6" stroke="#ed1c24" stroke-width="5"/>
<line x1="549.9" y1="1722.4" x2="611" y2="1722.4" stroke="#be1e2d" stroke-width="5" stroke-dasharray="14 9.5"/>
<line x1="549.9" y1="1765" x2="614.1" y2="1765" stroke="#961c62" stroke-width="5"/>
<text x="487" y="1737.7" font-size="38.5" text-anchor="start" font-weight="normal"><tspan font-style="italic">T</tspan></text>
<text x="632" y="1695.9" font-size="38.5" text-anchor="start" font-weight="normal"><tspan font-style="italic">R</tspan><tspan font-style="italic" font-size="28.5" dy="9.6">A</tspan><tspan dy="-9.6"> (exp)</tspan></text>
<text x="632" y="1739.2" font-size="38.5" text-anchor="start" font-weight="normal"><tspan font-style="italic">R</tspan><tspan font-style="italic" font-size="28.5" dy="9.6">A</tspan><tspan dy="-9.6"> (model)</tspan></text>
<text x="632" y="1782.5" font-size="38.5" text-anchor="start" font-weight="normal"><tspan font-style="italic">R</tspan><tspan font-style="italic" font-size="28.5" dy="9.6">A</tspan><tspan dy="-9.6"> (simulation)</tspan></text>
</svg>
</body></html>
